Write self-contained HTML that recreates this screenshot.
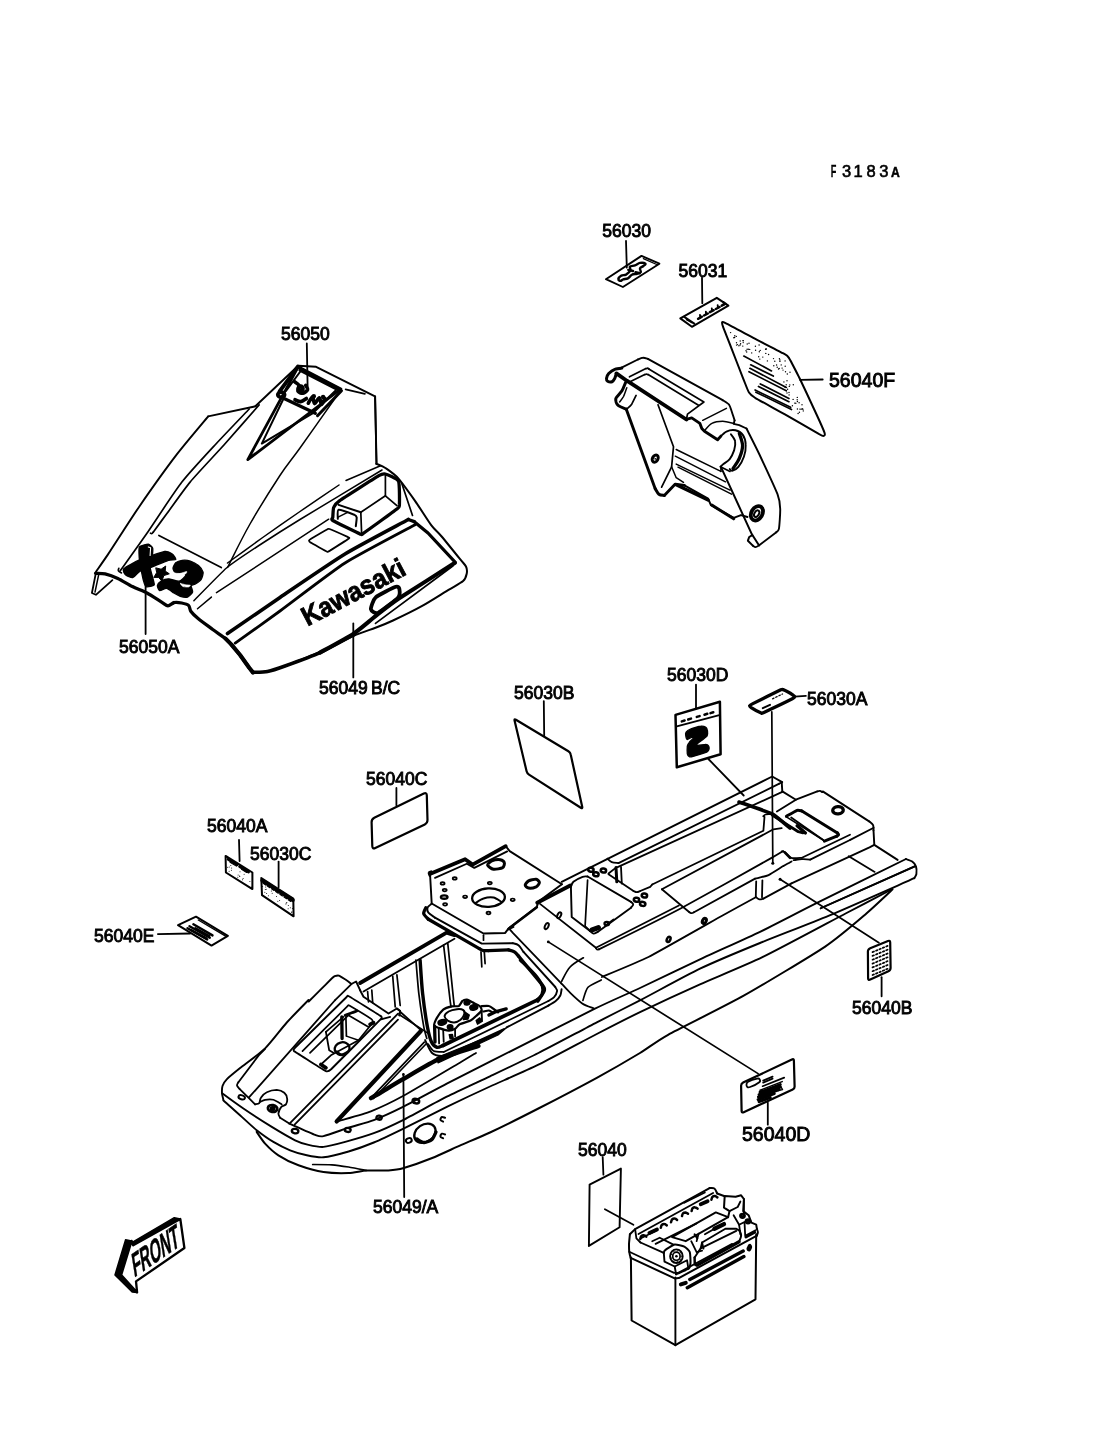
<!DOCTYPE html>
<html><head><meta charset="utf-8"><title>F3183A Labels</title>
<style>
html,body{margin:0;padding:0;background:#fff;}
body{width:1096px;height:1434px;overflow:hidden;font-family:"Liberation Sans",sans-serif;}
svg{display:block;opacity:0.999;will-change:transform;}
svg path, svg ellipse{stroke-linecap:round;stroke-linejoin:round;}
</style></head><body>
<svg width="1096" height="1434" viewBox="0 0 1096 1434">
<rect x="0" y="0" width="1096" height="1434" fill="#fff"/>
<text opacity="0.999" x="830.8" y="176.5" font-size="16.5" text-anchor="start" font-weight="bold" stroke-width="0.3" font-family="'Liberation Sans', sans-serif" fill="#000" stroke="#000" textLength="5.6" lengthAdjust="spacingAndGlyphs">F</text>
<text opacity="0.999" x="846.5" y="176.5" font-size="16.5" text-anchor="middle" font-weight="normal" stroke-width="0.6" font-family="'Liberation Sans', sans-serif" fill="#000" stroke="#000" >3</text>
<text opacity="0.999" x="858" y="176.5" font-size="16.5" text-anchor="middle" font-weight="normal" stroke-width="0.6" font-family="'Liberation Sans', sans-serif" fill="#000" stroke="#000" >1</text>
<text opacity="0.999" x="871.1" y="176.5" font-size="16.5" text-anchor="middle" font-weight="normal" stroke-width="0.6" font-family="'Liberation Sans', sans-serif" fill="#000" stroke="#000" >8</text>
<text opacity="0.999" x="883.8" y="176.5" font-size="16.5" text-anchor="middle" font-weight="normal" stroke-width="0.6" font-family="'Liberation Sans', sans-serif" fill="#000" stroke="#000" >3</text>
<text opacity="0.999" x="895.3" y="177.3" font-size="14.5" text-anchor="middle" font-weight="bold" stroke-width="0.5" font-family="'Liberation Sans', sans-serif" fill="#000" stroke="#000" textLength="8.8" lengthAdjust="spacingAndGlyphs">A</text>
<text opacity="0.999" x="602.3" y="237" font-size="17.5" text-anchor="start" font-weight="normal" stroke-width="0.9" font-family="'Liberation Sans', sans-serif" fill="#000" stroke="#000" >56030</text>
<text opacity="0.999" x="678.5" y="276.5" font-size="17.5" text-anchor="start" font-weight="normal" stroke-width="0.9" font-family="'Liberation Sans', sans-serif" fill="#000" stroke="#000" >56031</text>
<text opacity="0.999" x="281" y="340" font-size="17.5" text-anchor="start" font-weight="normal" stroke-width="0.9" font-family="'Liberation Sans', sans-serif" fill="#000" stroke="#000" >56050</text>
<text opacity="0.999" x="829" y="387" font-size="19.5" text-anchor="start" font-weight="normal" stroke-width="0.9" font-family="'Liberation Sans', sans-serif" fill="#000" stroke="#000" >56040F</text>
<text opacity="0.999" x="119" y="653" font-size="17.5" text-anchor="start" font-weight="normal" stroke-width="0.9" font-family="'Liberation Sans', sans-serif" fill="#000" stroke="#000" >56050A</text>
<text opacity="0.999" x="319" y="694" font-size="17.5" text-anchor="start" font-weight="normal" stroke-width="0.9" font-family="'Liberation Sans', sans-serif" fill="#000" stroke="#000" >56049</text>
<text opacity="0.999" x="371" y="694" font-size="17.5" text-anchor="start" font-weight="normal" stroke-width="0.9" font-family="'Liberation Sans', sans-serif" fill="#000" stroke="#000" >B/C</text>
<text opacity="0.999" x="514" y="699" font-size="17.5" text-anchor="start" font-weight="normal" stroke-width="0.9" font-family="'Liberation Sans', sans-serif" fill="#000" stroke="#000" >56030B</text>
<text opacity="0.999" x="667" y="681" font-size="17.5" text-anchor="start" font-weight="normal" stroke-width="0.9" font-family="'Liberation Sans', sans-serif" fill="#000" stroke="#000" >56030D</text>
<text opacity="0.999" x="807" y="705" font-size="17.5" text-anchor="start" font-weight="normal" stroke-width="0.9" font-family="'Liberation Sans', sans-serif" fill="#000" stroke="#000" >56030A</text>
<text opacity="0.999" x="366" y="785" font-size="17.5" text-anchor="start" font-weight="normal" stroke-width="0.9" font-family="'Liberation Sans', sans-serif" fill="#000" stroke="#000" >56040C</text>
<text opacity="0.999" x="207" y="832" font-size="17.5" text-anchor="start" font-weight="normal" stroke-width="0.9" font-family="'Liberation Sans', sans-serif" fill="#000" stroke="#000" >56040A</text>
<text opacity="0.999" x="250" y="860" font-size="17.5" text-anchor="start" font-weight="normal" stroke-width="0.9" font-family="'Liberation Sans', sans-serif" fill="#000" stroke="#000" >56030C</text>
<text opacity="0.999" x="94" y="942" font-size="17.5" text-anchor="start" font-weight="normal" stroke-width="0.9" font-family="'Liberation Sans', sans-serif" fill="#000" stroke="#000" >56040E</text>
<text opacity="0.999" x="852" y="1014" font-size="17.5" text-anchor="start" font-weight="normal" stroke-width="0.9" font-family="'Liberation Sans', sans-serif" fill="#000" stroke="#000" >56040B</text>
<text opacity="0.999" x="742" y="1141" font-size="19.5" text-anchor="start" font-weight="normal" stroke-width="0.9" font-family="'Liberation Sans', sans-serif" fill="#000" stroke="#000" >56040D</text>
<text opacity="0.999" x="373" y="1213" font-size="17.5" text-anchor="start" font-weight="normal" stroke-width="0.9" font-family="'Liberation Sans', sans-serif" fill="#000" stroke="#000" >56049/A</text>
<text opacity="0.999" x="578" y="1156" font-size="17.5" text-anchor="start" font-weight="normal" stroke-width="0.9" font-family="'Liberation Sans', sans-serif" fill="#000" stroke="#000" >56040</text>
<path d="M626 240.9 L626.8 267.6" stroke-width="1.8" fill="none" stroke="#000" />
<path d="M605.9 279.2 L641.5 255.9 L659.4 263.7 L622.9 287 Z" stroke-width="1.9" fill="none" stroke="#000" />
<path d="M618.3 279.2 C618.4 278.3 620.1 276.4 621.4 275.6 C622.7 274.9 624.5 275.4 626 274.6 C627.5 273.7 629.7 271.7 630.4 270.4 C631 269 629.1 267.3 629.9 266.5 C630.7 265.7 633.3 266 635 265.4 C636.7 264.8 638.3 263.2 640 262.9 C641.7 262.6 644.8 263.2 645.4 263.7 C646 264.2 644.3 265.2 643.4 266 C642.5 266.8 640.4 267.3 640 268.3 C639.5 269.4 641.3 271.3 640.8 272.2 C640.2 273.1 638.4 273.4 636.9 273.8 C635.4 274.2 633.4 273.9 631.9 274.7 C630.4 275.5 629.3 277.7 627.9 278.4 C626.4 279.2 624.4 278.9 623.2 279.4 C622 279.8 621.4 280.9 620.6 280.9 C619.8 280.9 618.1 280.1 618.3 279.2 Z" stroke-width="2.4" fill="none" stroke="#000" />
<path d="M643.4 258.6 L656.7 264.5" stroke-width="1.3" fill="none" stroke="#000" />
<path d="M628.3 269.9 L633 271" stroke-width="2.5" fill="none" stroke="#000" />
<path d="M635.6 272.2 L639.7 273.2" stroke-width="2.5" fill="none" stroke="#000" />
<path d="M702 277.7 L702.3 303.2" stroke-width="1.8" fill="none" stroke="#000" />
<path d="M680.3 318.4 L716.8 297.8 L728.4 305.6 L691.9 326.8 Z" stroke-width="2" fill="none" stroke="#000" />
<path d="M684.2 316.9 L694.3 323.7" stroke-width="2" fill="none" stroke="#000" />
<path d="M686.5 319.5 L691.9 322.6" stroke-width="1.5" fill="none" stroke="#000" />
<path d="M698.1 318.8 L701.9 316.7" stroke-width="2.5" fill="none" stroke="#000" />
<path d="M700.3 317.5 L700 315" stroke-width="1.9" fill="none" stroke="#000" />
<path d="M704 315.5 L707.8 313.5" stroke-width="2.5" fill="none" stroke="#000" />
<path d="M706.2 314.3 L705.9 311.8" stroke-width="1.9" fill="none" stroke="#000" />
<path d="M709.9 312.2 L713.7 310.2" stroke-width="2.5" fill="none" stroke="#000" />
<path d="M712.1 311 L711.8 308.5" stroke-width="1.9" fill="none" stroke="#000" />
<path d="M715.8 309 L719.6 307" stroke-width="2.5" fill="none" stroke="#000" />
<path d="M718 307.7 L717.7 305.3" stroke-width="1.9" fill="none" stroke="#000" />
<path d="M721.7 305.7 L725.4 303.7" stroke-width="2.5" fill="none" stroke="#000" />
<path d="M723.9 304.5 L723.6 302" stroke-width="1.9" fill="none" stroke="#000" />
<path d="M800.2 379.9 L822.7 379.5" stroke-width="1.8" fill="none" stroke="#000" />
<path d="M722.1 322.3 C722.4 321.9 722 321.4 725.6 323.2 C729.2 325 746.7 334.4 753.3 337.9 C760 341.4 778.7 350.9 782.8 353.2 C787 355.5 786.9 354.8 788.9 357.9 C790.9 361 797.2 373.6 800.2 379.5 C803.1 385.5 811.2 402.9 814 409 C816.9 415.2 823.3 429.3 824.4 432.4 C825.5 435.6 824.2 435.7 823.6 435.9 C823 436.1 823.8 436.7 819.2 434.2 C814.7 431.6 792 418.5 784.5 414.2 C777.1 410 759.2 400.3 755.1 397.8 C750.9 395.2 750.4 394.9 749 392.6 C747.6 390.2 745.1 383.2 742.9 377.8 C740.8 372.5 733.1 352.6 730.8 346.6 C728.5 340.6 724 329.5 723 326.7 C722 323.8 721.8 322.7 722.1 322.3 Z" stroke-width="2" fill="none" stroke="#000" />
<path d="M743.8 356.1 L771.5 370.9" stroke-width="1.7" fill="none" stroke="#000" />
<path d="M750.7 364.8 L773.3 376.1" stroke-width="1.7" fill="none" stroke="#000" />
<path d="M749.9 368.3 L786.3 387.4" stroke-width="1.7" fill="none" stroke="#000" />
<path d="M749 371.7 L786.3 390.8" stroke-width="1.7" fill="none" stroke="#000" />
<path d="M758.5 386.5 L788.9 401.7" stroke-width="1.7" fill="none" stroke="#000" />
<path d="M760.3 383.9 L788.9 398.6" stroke-width="1.7" fill="none" stroke="#000" />
<path d="M755.1 390 L790.6 407.3" stroke-width="1.7" fill="none" stroke="#000" />
<path d="M755.9 392.2 L791.5 409.5" stroke-width="1.7" fill="none" stroke="#000" />
<circle cx="747.2" cy="344" r="0.7" fill="#000" stroke="none"/>
<circle cx="766" cy="349.1" r="0.7" fill="#000" stroke="none"/>
<circle cx="736.5" cy="342.7" r="0.7" fill="#000" stroke="none"/>
<circle cx="785.5" cy="371.7" r="0.7" fill="#000" stroke="none"/>
<circle cx="734.8" cy="335.7" r="0.7" fill="#000" stroke="none"/>
<circle cx="759.1" cy="345" r="0.7" fill="#000" stroke="none"/>
<circle cx="759.8" cy="359.1" r="0.7" fill="#000" stroke="none"/>
<circle cx="793.1" cy="399.4" r="0.7" fill="#000" stroke="none"/>
<circle cx="777.2" cy="367.3" r="0.7" fill="#000" stroke="none"/>
<circle cx="787.6" cy="389.2" r="0.7" fill="#000" stroke="none"/>
<circle cx="787.3" cy="374" r="0.7" fill="#000" stroke="none"/>
<circle cx="783" cy="370.1" r="0.7" fill="#000" stroke="none"/>
<circle cx="736.3" cy="336.4" r="0.7" fill="#000" stroke="none"/>
<circle cx="737.5" cy="344.6" r="0.7" fill="#000" stroke="none"/>
<circle cx="799.4" cy="412.2" r="0.7" fill="#000" stroke="none"/>
<circle cx="740.1" cy="345" r="0.7" fill="#000" stroke="none"/>
<circle cx="767.4" cy="360.9" r="0.7" fill="#000" stroke="none"/>
<circle cx="802.2" cy="408.8" r="0.7" fill="#000" stroke="none"/>
<circle cx="801.1" cy="409.2" r="0.7" fill="#000" stroke="none"/>
<circle cx="740.2" cy="341" r="0.7" fill="#000" stroke="none"/>
<circle cx="765.8" cy="353.4" r="0.7" fill="#000" stroke="none"/>
<circle cx="749" cy="343.3" r="0.7" fill="#000" stroke="none"/>
<circle cx="730.6" cy="332.6" r="0.7" fill="#000" stroke="none"/>
<circle cx="751.7" cy="352.9" r="0.7" fill="#000" stroke="none"/>
<circle cx="779.9" cy="361.4" r="0.7" fill="#000" stroke="none"/>
<circle cx="760.2" cy="350.4" r="0.7" fill="#000" stroke="none"/>
<circle cx="797.4" cy="401.5" r="0.7" fill="#000" stroke="none"/>
<circle cx="749.7" cy="349.4" r="0.7" fill="#000" stroke="none"/>
<circle cx="799.9" cy="409.1" r="0.7" fill="#000" stroke="none"/>
<circle cx="795.8" cy="403.2" r="0.7" fill="#000" stroke="none"/>
<circle cx="742.8" cy="346.1" r="0.7" fill="#000" stroke="none"/>
<circle cx="740.6" cy="343.7" r="0.7" fill="#000" stroke="none"/>
<circle cx="789.8" cy="384.9" r="0.7" fill="#000" stroke="none"/>
<circle cx="802.9" cy="409.3" r="0.7" fill="#000" stroke="none"/>
<circle cx="783.9" cy="381.9" r="0.7" fill="#000" stroke="none"/>
<circle cx="773.5" cy="358.6" r="0.7" fill="#000" stroke="none"/>
<circle cx="734.6" cy="337.5" r="0.7" fill="#000" stroke="none"/>
<circle cx="803.3" cy="410.9" r="0.7" fill="#000" stroke="none"/>
<circle cx="781.2" cy="364.9" r="0.7" fill="#000" stroke="none"/>
<circle cx="746.7" cy="352" r="0.7" fill="#000" stroke="none"/>
<circle cx="755.6" cy="350.2" r="0.7" fill="#000" stroke="none"/>
<circle cx="784.6" cy="386.7" r="0.7" fill="#000" stroke="none"/>
<circle cx="746" cy="350.7" r="0.7" fill="#000" stroke="none"/>
<circle cx="786.2" cy="384.7" r="0.7" fill="#000" stroke="none"/>
<circle cx="793.3" cy="384.7" r="0.7" fill="#000" stroke="none"/>
<circle cx="790" cy="372.3" r="0.7" fill="#000" stroke="none"/>
<circle cx="779.9" cy="360" r="0.7" fill="#000" stroke="none"/>
<circle cx="798.1" cy="413.5" r="0.7" fill="#000" stroke="none"/>
<circle cx="768.6" cy="354.5" r="0.7" fill="#000" stroke="none"/>
<circle cx="736.5" cy="345.1" r="0.7" fill="#000" stroke="none"/>
<circle cx="743.2" cy="340.7" r="0.7" fill="#000" stroke="none"/>
<circle cx="782.1" cy="368.1" r="0.7" fill="#000" stroke="none"/>
<circle cx="743" cy="340.6" r="0.7" fill="#000" stroke="none"/>
<circle cx="762.8" cy="357.1" r="0.7" fill="#000" stroke="none"/>
<circle cx="733.8" cy="337.7" r="0.7" fill="#000" stroke="none"/>
<circle cx="779.2" cy="368.5" r="0.7" fill="#000" stroke="none"/>
<circle cx="759.3" cy="351.8" r="0.7" fill="#000" stroke="none"/>
<circle cx="784.9" cy="386.6" r="0.7" fill="#000" stroke="none"/>
<circle cx="785.1" cy="360.9" r="0.7" fill="#000" stroke="none"/>
<circle cx="787" cy="380.8" r="0.7" fill="#000" stroke="none"/>
<circle cx="743.2" cy="342.6" r="0.7" fill="#000" stroke="none"/>
<circle cx="797.2" cy="399.8" r="0.7" fill="#000" stroke="none"/>
<circle cx="747.1" cy="349.3" r="0.7" fill="#000" stroke="none"/>
<circle cx="748.3" cy="349.3" r="0.7" fill="#000" stroke="none"/>
<circle cx="789.1" cy="394.9" r="0.7" fill="#000" stroke="none"/>
<circle cx="787" cy="393" r="0.7" fill="#000" stroke="none"/>
<circle cx="797.3" cy="397.4" r="0.7" fill="#000" stroke="none"/>
<circle cx="792.4" cy="405.7" r="0.7" fill="#000" stroke="none"/>
<circle cx="797.4" cy="409" r="0.7" fill="#000" stroke="none"/>
<circle cx="794.7" cy="403.1" r="0.7" fill="#000" stroke="none"/>
<circle cx="766.3" cy="348.9" r="0.7" fill="#000" stroke="none"/>
<circle cx="776.6" cy="365" r="0.7" fill="#000" stroke="none"/>
<circle cx="774.8" cy="361.3" r="0.7" fill="#000" stroke="none"/>
<circle cx="789" cy="392.5" r="0.7" fill="#000" stroke="none"/>
<circle cx="765.6" cy="349.2" r="0.7" fill="#000" stroke="none"/>
<circle cx="738.9" cy="345.7" r="0.7" fill="#000" stroke="none"/>
<circle cx="778.5" cy="369" r="0.7" fill="#000" stroke="none"/>
<circle cx="773.8" cy="365.8" r="0.7" fill="#000" stroke="none"/>
<circle cx="755.4" cy="346.3" r="0.7" fill="#000" stroke="none"/>
<circle cx="785.2" cy="366.3" r="0.7" fill="#000" stroke="none"/>
<circle cx="758.7" cy="356.7" r="0.7" fill="#000" stroke="none"/>
<circle cx="789.3" cy="386.4" r="0.7" fill="#000" stroke="none"/>
<circle cx="799.1" cy="402.8" r="0.7" fill="#000" stroke="none"/>
<circle cx="779.4" cy="358.7" r="0.7" fill="#000" stroke="none"/>
<circle cx="802" cy="404.8" r="0.7" fill="#000" stroke="none"/>
<path d="M543.8 701.1 L544.2 735.9" stroke-width="1.8" fill="none" stroke="#000" />
<path d="M514.6 720.8 Q514.1 718.6 515.9 719.7 L568.4 751.2 Q570.3 752.3 570.7 754.5 L582.2 806.8 Q582.7 808.9 580.8 807.8 L529 774.6 Q527.1 773.4 526.6 771.3 Z" stroke-width="2.2" fill="none" stroke="#000"/>
<path d="M696 684.6 L696 708.5" stroke-width="1.8" fill="none" stroke="#000" />
<path d="M675.5 714.9 L719.9 701.8 L720.6 754.2 L676.8 767.3 Z" stroke-width="2.5" fill="none" stroke="#000" />
<path d="M676.8 726.4 L719.3 715.2" stroke-width="1.9" fill="none" stroke="#000" />
<path d="M681.8 721.4 L684.6 720.5" stroke-width="2.5" fill="none" stroke="#000" />
<path d="M688.2 719.5 L691 718.6" stroke-width="2.5" fill="none" stroke="#000" />
<path d="M696.8 716.9 L699.6 716.1" stroke-width="2.5" fill="none" stroke="#000" />
<path d="M704.5 714.7 L707.3 713.8" stroke-width="2.5" fill="none" stroke="#000" />
<path d="M710.5 713.1 L713.3 712.2" stroke-width="2.5" fill="none" stroke="#000" />
<path d="M686.1 732.1 C686.6 731.4 689.1 729.6 690.5 729 C692 728.3 699.2 726.2 700.8 726.1 C702.3 725.9 705.2 726.9 705.9 727.4 C706.5 727.8 707.3 730 707.5 730.9 C707.6 731.7 707.8 735 707.1 736 C706.5 737 701.9 740.1 700.8 741.1 C699.6 742 695.1 745.2 695.7 745.6 C696.2 745.9 704.6 744.3 705.9 744.3 C707.1 744.3 708.1 745.1 708.4 745.6 C708.7 746 709.2 748.1 709.1 748.7 C708.9 749.4 708.7 751.2 707.1 751.9 C705.5 752.7 694.9 755.9 693.1 756.4 C691.3 756.9 689.8 757 689.3 756.7 C688.7 756.5 687.5 754.9 687.3 753.9 C687.2 752.8 687.2 747.3 687.3 746.2 C687.5 745 688.7 743.1 689.3 742.4 C689.8 741.6 692.8 739 693.1 738.5 C693.4 738 692.4 737.2 691.8 737.3 C691.2 737.3 688 739.6 687.3 739.5 C686.7 739.4 685.9 736.7 685.8 736 C685.6 735.2 685.6 732.8 686.1 732.1 Z" stroke-width="1.3" fill="#000" stroke="#000" />
<path d="M708.4 759 L743.7 795.5" stroke-width="1.8" fill="none" stroke="#000" />
<path d="M749.6 705.8 C749.8 705.5 750.4 704.9 752.9 703.6 C755.5 702.3 777.8 691.2 780.3 690 C782.8 688.9 782 689.2 783.1 689.6 C784.2 690 792.5 694.7 793.4 695.3 C794.4 695.9 794.6 696.7 794.5 697 C794.4 697.3 794.9 697.5 792.3 698.8 C789.8 700.1 766.5 711.2 763.9 712.4 C761.3 713.6 762.3 713.4 761.2 713 C760.2 712.6 752.1 708.2 751.2 707.6 C750.2 706.9 749.5 706.1 749.6 705.8 Z" stroke-width="3.3" fill="none" stroke="#000" />
<path d="M794.5 696.6 L805.9 695.9" stroke-width="1.8" fill="none" stroke="#000" />
<path d="M772.6 698.8 L782.5 694" stroke-width="1.3" fill="none" stroke="#000" stroke-dasharray="1.5 2"/>
<path d="M762.8 708.2 L770 704.9" stroke-width="2" fill="none" stroke="#000" />
<path d="M396.4 787.9 L396.4 805.3" stroke-width="1.8" fill="none" stroke="#000" />
<path d="M371.6 822.3 Q371.5 819.1 374.3 817.7 L423.8 793.6 Q426.7 792.2 426.8 795.4 L427.5 819.9 Q427.6 823.1 424.8 824.5 L375.3 848 Q372.5 849.4 372.3 846.2 Z" stroke-width="2.2" fill="none" stroke="#000"/>
<path d="M239 839.9 L239.6 861" stroke-width="1.8" fill="none" stroke="#000" />
<path d="M225.6 855.9 L252.4 872.5 L252.4 889.1 L225.9 872.5 Z" stroke-width="2" fill="none" stroke="#000" />
<path d="M228.1 859.3 L237.1 864.8" stroke-width="2.8" fill="none" stroke="#000" />
<path d="M239.6 866.5 L248.6 872.1" stroke-width="2.8" fill="none" stroke="#000" />
<path d="M230 862.2 L236.4 866.1" stroke-width="1.1" fill="none" stroke="#000" />
<path d="M241.5 869.3 L246.6 872.5" stroke-width="1.1" fill="none" stroke="#000" />
<circle cx="238.1" cy="874.9" r="0.5" fill="#000" stroke="none"/>
<circle cx="249.9" cy="881.6" r="0.5" fill="#000" stroke="none"/>
<circle cx="239.5" cy="876" r="0.5" fill="#000" stroke="none"/>
<circle cx="231.4" cy="870.2" r="0.5" fill="#000" stroke="none"/>
<circle cx="242.5" cy="879.7" r="0.5" fill="#000" stroke="none"/>
<circle cx="229.2" cy="866.9" r="0.5" fill="#000" stroke="none"/>
<circle cx="229.1" cy="871.3" r="0.5" fill="#000" stroke="none"/>
<circle cx="244.1" cy="874.2" r="0.5" fill="#000" stroke="none"/>
<circle cx="251.3" cy="886.9" r="0.5" fill="#000" stroke="none"/>
<circle cx="243.1" cy="878.6" r="0.5" fill="#000" stroke="none"/>
<circle cx="230.8" cy="865.4" r="0.5" fill="#000" stroke="none"/>
<circle cx="240" cy="871.7" r="0.5" fill="#000" stroke="none"/>
<circle cx="231.6" cy="867.9" r="0.5" fill="#000" stroke="none"/>
<circle cx="227.6" cy="867.3" r="0.5" fill="#000" stroke="none"/>
<circle cx="237.8" cy="877.2" r="0.5" fill="#000" stroke="none"/>
<circle cx="239.8" cy="876.6" r="0.5" fill="#000" stroke="none"/>
<path d="M278.6 861.6 L278.6 887.2" stroke-width="1.8" fill="none" stroke="#000" />
<path d="M261.3 878 L293.3 898.6 L293.6 916.3 L262 895.1 Z" stroke-width="2" fill="none" stroke="#000" />
<path d="M262.2 880.5 L292.9 900.2" stroke-width="3.8" fill="none" stroke="#000" stroke-dasharray="9 1.2"/>
<path d="M263.2 883.3 L292 902.2" stroke-width="1.3" fill="none" stroke="#000" stroke-dasharray="3 2"/>
<circle cx="277.8" cy="901.3" r="0.5" fill="#000" stroke="none"/>
<circle cx="276.5" cy="896.6" r="0.5" fill="#000" stroke="none"/>
<circle cx="292.9" cy="914.8" r="0.5" fill="#000" stroke="none"/>
<circle cx="288.1" cy="908.7" r="0.5" fill="#000" stroke="none"/>
<circle cx="272.2" cy="893.2" r="0.5" fill="#000" stroke="none"/>
<circle cx="271.4" cy="891.1" r="0.5" fill="#000" stroke="none"/>
<circle cx="285.9" cy="904.1" r="0.5" fill="#000" stroke="none"/>
<circle cx="288.3" cy="905.6" r="0.5" fill="#000" stroke="none"/>
<circle cx="291.7" cy="912.5" r="0.5" fill="#000" stroke="none"/>
<circle cx="262.6" cy="886.6" r="0.5" fill="#000" stroke="none"/>
<circle cx="290.3" cy="907.8" r="0.5" fill="#000" stroke="none"/>
<circle cx="292.4" cy="908.5" r="0.5" fill="#000" stroke="none"/>
<circle cx="264.8" cy="892.2" r="0.5" fill="#000" stroke="none"/>
<circle cx="286.3" cy="903.1" r="0.5" fill="#000" stroke="none"/>
<circle cx="265.3" cy="889.6" r="0.5" fill="#000" stroke="none"/>
<circle cx="291.9" cy="911.7" r="0.5" fill="#000" stroke="none"/>
<circle cx="266.2" cy="889.3" r="0.5" fill="#000" stroke="none"/>
<circle cx="265.7" cy="887.1" r="0.5" fill="#000" stroke="none"/>
<circle cx="286.8" cy="902.5" r="0.5" fill="#000" stroke="none"/>
<circle cx="279.6" cy="900.4" r="0.5" fill="#000" stroke="none"/>
<circle cx="268.4" cy="895.7" r="0.5" fill="#000" stroke="none"/>
<circle cx="266.6" cy="893.6" r="0.5" fill="#000" stroke="none"/>
<path d="M157.9 934.1 L190.1 933.5" stroke-width="1.8" fill="none" stroke="#000" />
<path d="M178 925.2 L196 916.7 L227.9 935.8 L211.5 945.6 Z" stroke-width="2" fill="none" stroke="#000" />
<path d="M198.3 920 L225.6 936.1" stroke-width="1.4" fill="none" stroke="#000" />
<path d="M187.5 928.2 L207.2 939.4" stroke-width="2.4" fill="none" stroke="#000" />
<path d="M189.5 926.2 L209.8 937.7" stroke-width="2.4" fill="none" stroke="#000" />
<path d="M191.4 930.2 L205.9 938.1" stroke-width="2.4" fill="none" stroke="#000" />
<path d="M193.4 924.3 L212.5 935.4" stroke-width="2.4" fill="none" stroke="#000" />
<path d="M195.4 928.2 L209.2 936.1" stroke-width="2.4" fill="none" stroke="#000" />
<path d="M881.6 977.2 L881.6 996.3" stroke-width="1.8" fill="none" stroke="#000" />
<path d="M867.9 951.5 Q867.9 949.1 870.2 948.2 L888 941 Q890.2 940.1 890.2 942.5 L890.6 967.8 Q890.6 970.2 888.4 971.2 L870.3 979.6 Q868.1 980.6 868.1 978.2 Z" stroke-width="2.2" fill="none" stroke="#000"/>
<path d="M872.5 952.1 L874 951.5" stroke-width="1.7" fill="none" stroke="#000" />
<path d="M876 950.7 L877.4 950.1" stroke-width="1.7" fill="none" stroke="#000" />
<path d="M879.4 949.3 L880.8 948.7" stroke-width="1.7" fill="none" stroke="#000" />
<path d="M882.8 947.9 L884.2 947.3" stroke-width="1.7" fill="none" stroke="#000" />
<path d="M886.2 946.5 L887.6 945.9" stroke-width="1.7" fill="none" stroke="#000" />
<path d="M872.5 955.9 L874 955.3" stroke-width="1.7" fill="none" stroke="#000" />
<path d="M876 954.5 L877.4 953.9" stroke-width="1.7" fill="none" stroke="#000" />
<path d="M879.4 953.1 L880.8 952.5" stroke-width="1.7" fill="none" stroke="#000" />
<path d="M882.8 951.7 L884.2 951.1" stroke-width="1.7" fill="none" stroke="#000" />
<path d="M886.2 950.3 L887.6 949.7" stroke-width="1.7" fill="none" stroke="#000" />
<path d="M872.5 959.7 L874 959.1" stroke-width="1.7" fill="none" stroke="#000" />
<path d="M876 958.3 L877.4 957.7" stroke-width="1.7" fill="none" stroke="#000" />
<path d="M879.4 956.9 L880.8 956.3" stroke-width="1.7" fill="none" stroke="#000" />
<path d="M882.8 955.5 L884.2 954.9" stroke-width="1.7" fill="none" stroke="#000" />
<path d="M886.2 954.1 L887.6 953.5" stroke-width="1.7" fill="none" stroke="#000" />
<path d="M872.5 963.6 L874 963" stroke-width="1.7" fill="none" stroke="#000" />
<path d="M876 962.2 L877.4 961.5" stroke-width="1.7" fill="none" stroke="#000" />
<path d="M879.4 960.7 L880.8 960.1" stroke-width="1.7" fill="none" stroke="#000" />
<path d="M882.8 959.3 L884.2 958.7" stroke-width="1.7" fill="none" stroke="#000" />
<path d="M886.2 957.9 L887.6 957.3" stroke-width="1.7" fill="none" stroke="#000" />
<path d="M872.5 967.4 L874 966.8" stroke-width="1.7" fill="none" stroke="#000" />
<path d="M876 966 L877.4 965.4" stroke-width="1.7" fill="none" stroke="#000" />
<path d="M879.4 964.6 L880.8 964" stroke-width="1.7" fill="none" stroke="#000" />
<path d="M882.8 963.2 L884.2 962.6" stroke-width="1.7" fill="none" stroke="#000" />
<path d="M886.2 961.8 L887.6 961.1" stroke-width="1.7" fill="none" stroke="#000" />
<path d="M872.5 971.2 L874 970.6" stroke-width="1.7" fill="none" stroke="#000" />
<path d="M876 969.8 L877.4 969.2" stroke-width="1.7" fill="none" stroke="#000" />
<path d="M879.4 968.4 L880.8 967.8" stroke-width="1.7" fill="none" stroke="#000" />
<path d="M882.8 967 L884.2 966.4" stroke-width="1.7" fill="none" stroke="#000" />
<path d="M886.2 965.6 L887.6 965" stroke-width="1.7" fill="none" stroke="#000" />
<path d="M872.5 975 L874 974.4" stroke-width="1.7" fill="none" stroke="#000" />
<path d="M876 973.6 L877.4 973" stroke-width="1.7" fill="none" stroke="#000" />
<path d="M879.4 972.2 L880.8 971.6" stroke-width="1.7" fill="none" stroke="#000" />
<path d="M882.8 970.8 L884.2 970.2" stroke-width="1.7" fill="none" stroke="#000" />
<path d="M886.2 969.4 L887.6 968.8" stroke-width="1.7" fill="none" stroke="#000" />
<path d="M767.8 1102.7 L767.8 1124.7" stroke-width="1.8" fill="none" stroke="#000" />
<path d="M741.1 1085.8 Q741.1 1083.6 743.1 1082.6 L791.9 1059.4 Q793.9 1058.5 793.9 1060.7 L794.6 1086.4 Q794.7 1088.6 792.7 1089.5 L743.7 1112.2 Q741.7 1113.1 741.6 1110.9 Z" stroke-width="2.2" fill="none" stroke="#000"/>
<path d="M746.5 1084.2 C746.6 1083.5 746.7 1082.5 748.1 1081.8 C749.5 1081 755.6 1078.9 757.1 1078.6 C758.7 1078.2 759.4 1078.9 759.7 1079.4 C760 1079.9 760.6 1081.2 759.3 1082.2 C758.1 1083.2 751.7 1086.4 750.1 1087 C748.5 1087.6 747.8 1087.4 747.3 1087 C746.8 1086.6 746.4 1084.9 746.5 1084.2 Z" stroke-width="1.8" fill="none" stroke="#000" />
<path d="M763.2 1080.6 L772.6 1076.6" stroke-width="1.8" fill="none" stroke="#000" />
<path d="M763.2 1082.6 L772.6 1078.6" stroke-width="1.8" fill="none" stroke="#000" />
<path d="M762.6 1086.2 L784.2 1077.6" stroke-width="1.7" fill="none" stroke="#000" />
<path d="M760.1 1092.2 L780.2 1084.6" stroke-width="3" fill="none" stroke="#000" />
<path d="M759.1 1094.6 L780.2 1087" stroke-width="3" fill="none" stroke="#000" />
<path d="M758.5 1097 L779.2 1089.6" stroke-width="3" fill="none" stroke="#000" />
<path d="M758.1 1099.6 L774.2 1093.6" stroke-width="3" fill="none" stroke="#000" />
<path d="M759.1 1101.7 L770.2 1097.6" stroke-width="3" fill="none" stroke="#000" />
<path d="M760.1 1090.2 L782.2 1081.6" stroke-width="1.5" fill="none" stroke="#000" />
<path d="M780.2 1085.6 L782.6 1089.6 L778.2 1090.6" stroke-width="1.3" fill="none" stroke="#000" />
<path d="M602.7 1157.2 L603.4 1174.7" stroke-width="1.8" fill="none" stroke="#000" />
<path d="M589.6 1184.6 L620.9 1168.6 L619.6 1227.3 L588.9 1245.9 Z" stroke-width="1.9" fill="none" stroke="#000" />
<path d="M604.9 1209.3 L633.4 1224.7" stroke-width="1.8" fill="none" stroke="#000" />
<path d="M208.2 416.4 C204.8 420.6 184.6 444.3 177 454.2 C169.4 464.1 146.8 495.7 139.2 506.7 C131.6 517.7 112.9 547.1 108 554.4 C103.1 561.7 96.3 571.2 94.9 573.3" stroke-width="1.9" fill="none" stroke="#000" />
<path d="M208.2 416.4 L255.8 406.2" stroke-width="1.9" fill="none" stroke="#000" />
<path d="M249.2 409 C245.6 412.8 223.8 435.5 216.4 443.5 C209 451.5 189.6 472.2 181.9 482.1 C174.2 492 153.4 524 146.6 533.8 C139.8 543.6 123.2 566.7 120.3 570.8" stroke-width="1.7" fill="none" stroke="#000" />
<path d="M259.1 404.9 C255.3 409.2 232.2 435.8 224.6 444.3 C217 452.8 196.4 474.5 190.1 482.1 C183.8 489.7 171.2 507.8 167.1 513.3 C163 518.8 154.7 530.1 153.2 532.2" stroke-width="1.7" fill="none" stroke="#000" />
<path d="M153.2 532.2 C153 532.4 152.2 533.4 151.8 533.6 C151.4 533.8 150.7 533.3 150.5 533.2" stroke-width="1.7" fill="none" stroke="#000" />
<path d="M158.9 535.5 L221.3 567.5" stroke-width="1.7" fill="none" stroke="#000" />
<path d="M306.8 343.5 L307.6 386.2" stroke-width="1.8" fill="none" stroke="#000" />
<path d="M255.6 406 L298.2 365.7 L316.1 366.8 L375 396.3 L376.6 463.7" stroke-width="1.9" fill="none" stroke="#000" />
<path d="M345.6 389.3 L364.9 393.9" stroke-width="1.7" fill="none" stroke="#000" />
<path d="M337 395.5 C330.8 404.2 309.6 434.6 300 448 C290.4 461.4 287.9 463.3 279.6 476 C271.3 488.7 258.7 508.8 250 524 C241.3 539.2 231.3 560.2 227.6 567.4" stroke-width="1.5" fill="none" stroke="#000" />
<path d="M298.2 366.8 L340.9 389 L247.8 459.6 Z" stroke-width="2.8" fill="none" stroke="#000" />
<path d="M284.3 397 L261.8 443.6 L313.8 412.6" stroke-width="2" fill="none" stroke="#000" />
<path d="M297.8 366.6 L279.5 391.5" stroke-width="3.8" fill="none" stroke="#000" />
<path d="M300.7 371 L286 390.8" stroke-width="2" fill="none" stroke="#000" />
<path d="M284.6 398.8 L315.3 413.3" stroke-width="3.3" fill="none" stroke="#000" />
<path d="M341.5 390.8 L317.5 415.7" stroke-width="3" fill="none" stroke="#000" />
<path d="M335.6 390.8 L313.8 411.9" stroke-width="2.5" fill="none" stroke="#000" />
<path d="M300.6 369.9 L338.6 389.3" stroke-width="4.3" fill="none" stroke="#000" />
<ellipse cx="281.2" cy="394.7" rx="3.4" ry="2.5" transform="rotate(0 281.2 394.7)" stroke-width="3.8" fill="none" stroke="#000"/>
<path d="M294.4 381.5 C295.1 382.2 298.4 383.8 299 385.4 C299.6 387 297.3 389.9 297.9 391.2 C298.6 392.4 301.3 393.4 302.9 393.2 C304.5 392.9 307.1 390.9 307.6 389.6 C308 388.3 306 386.1 305.7 385.4" stroke-width="3.6" fill="none" stroke="#000" />
<ellipse cx="300.6" cy="388.5" rx="2.2" ry="2.2" transform="rotate(0 300.6 388.5)" stroke-width="4.1" fill="none" stroke="#000"/>
<path d="M295.1 399.8 C296.1 400.1 298.7 401.9 300.6 401.7 C302.4 401.5 305.4 399.1 306.3 398.6" stroke-width="3.8" fill="none" stroke="#000" />
<path d="M308.3 403.2 C309 402.2 311.5 396.7 312.5 396.7 C313.6 396.8 313.4 403.4 314.5 403.6 C315.7 403.7 318.2 397.7 319.3 397.8 C320.5 398 320.6 404.4 321.5 404.5 C322.4 404.6 324.4 399.3 324.9 398.3" stroke-width="3.6" fill="none" stroke="#000" />
<circle cx="313.8" cy="396.3" r="2.2" fill="#000" stroke="none"/>
<circle cx="323.1" cy="397" r="2.2" fill="#000" stroke="none"/>
<path d="M95.9 572.9 L91.9 593 L95.9 594.8 L112.4 580.2" stroke-width="1.8" fill="none" stroke="#000" />
<path d="M98.7 574.7 L95 592.1" stroke-width="1.5" fill="none" stroke="#000" />
<path d="M95.9 573.3 C97.2 573.4 102.2 573.2 105.1 573.8 C108 574.5 114.2 576.7 117.8 578.4 C121.5 580.1 128.6 584.7 132.4 586.6 C136.3 588.6 143.2 590.9 147 593 C150.9 595.1 158.8 600.4 161.6 602.1 C164.4 603.8 166.3 605.7 168 605.8 C169.7 605.8 172.6 602.8 174.4 602.5 C176.2 602.1 179.8 602.6 181.7 603 C183.6 603.4 187.4 604.3 188.6 605.4 C189.9 606.5 189.6 609.5 190.8 611.2 C192.1 613 195.2 616.1 198.1 618.5 C201.1 621 209.1 626.8 212.7 629.5 C216.4 632.2 223.1 636.7 225.5 638.6 C227.9 640.6 229 641.9 231 644.1 C232.9 646.3 237.7 651.9 240.1 655 C242.5 658.2 247.5 665.5 249.2 667.8 C250.9 670.1 252.4 671.8 252.9 672.4" stroke-width="3.3" fill="none" stroke="#000" />
<path d="M225.5 638.6 L231 644.1 L240.1 655 L249.2 667.8 L252.9 672.4" stroke-width="4.1" fill="none" stroke="#000" />
<path d="M118.8 568.4 C118.7 568.8 117.9 570 118.4 570.7 C118.9 571.5 121 572.6 121.5 572.9" stroke-width="1.7" fill="none" stroke="#000" />
<path d="M139.4 546.9 C140.1 545.8 147.2 544 148.3 544.1 C149.4 544.3 152.4 547.1 152.7 548.2 C153 549.4 152.4 555.7 152.2 557.4 C152 559 150.2 566 150.3 568.3 C150.5 570.6 154.6 583.2 154.3 584.7 C153.9 586.3 147.4 587.1 146.5 586.8 C145.6 586.4 144 582.6 143.6 581.1 C143.1 579.6 141.2 570.3 140.8 568.3 C140.5 566.3 139.3 559.2 139.2 557.4 C139.1 555.6 138.6 548 139.4 546.9 Z" stroke-width="1.3" fill="#000" stroke="#000" />
<path d="M123.7 568.8 C125.1 567.3 136 561.4 140.1 559.7 C144.2 557.9 161.6 552 164.7 551.4 C167.9 550.8 170.9 552.9 172 553.7 C173.2 554.5 176.2 558.7 175.9 559.4 C175.5 560 170.7 559.6 168.4 560.3 C166.1 561 155.7 565.6 152.9 566.7 C150.1 567.8 142.1 570.1 140.1 571.2 C138.1 572.3 134.3 577.3 132.8 577.6 C131.4 578 126.4 575.8 125.5 574.9 C124.6 574 122.2 570.3 123.7 568.8 Z" stroke-width="1.3" fill="#000" stroke="#000" />
<path d="M173 568.3 C173 567.2 174.6 563.8 175.7 562.8 C176.8 561.9 180.4 560.5 182.1 560.3 C183.8 560.1 188.4 560.4 190.3 561 C192.2 561.6 197 564.3 198.5 565.6 C200 566.9 202.7 570.6 203.1 572.2 C203.4 573.8 202.1 577.9 201.2 579.3 C200.4 580.6 196.9 583.1 195.8 583.8 C194.6 584.6 191.6 584.7 191.2 585.7 C190.8 586.6 193 590.7 192.6 592 C192.1 593.4 189 596.6 187.6 597.1 C186.1 597.6 181.9 596.9 180.3 596.4 C178.7 595.9 175.5 593.9 173.9 593 C172.3 592 168.2 588.7 166.6 588.4 C164.9 588.1 160.8 591 159.7 590.7 C158.7 590.4 157.3 586.8 157.4 585.7 C157.6 584.5 159.8 581.9 161.1 581.1 C162.4 580.3 166.3 578.8 168.4 578.8 C170.5 578.8 177.3 581.5 179.3 581.1 C181.4 580.7 185.3 576.6 185.7 575.6 C186.2 574.6 184.2 572.7 183 572.4 C181.8 572.1 176.9 573.4 175.7 572.9 C174.5 572.4 173 569.5 173 568.3 Z" stroke-width="1.3" fill="#000" stroke="#000" />
<path d="M173.9 572.9 C174.4 572.7 178.1 573.8 179.3 573.6 C180.6 573.5 186 571.5 186.6 571.5 C187.3 571.5 186.4 573.3 185.7 573.8 C185.1 574.3 181.4 575.9 180.3 576.1 C179.1 576.3 174.5 575.9 173.9 575.6 C173.2 575.3 173.3 573.1 173.9 572.9 Z" stroke-width="0.6" fill="#fff" stroke="#fff" />
<path d="M180.3 583.4 C180.5 583.2 184.7 584.6 185.7 584.7 C186.7 584.9 190 585 190.3 585.2 C190.6 585.4 189.2 586.9 188.5 587 C187.7 587.2 183.8 586.9 183 586.6 C182.2 586.2 180 583.6 180.3 583.4 Z" stroke-width="0.6" fill="#fff" stroke="#fff" />
<path d="M156.1 567.9 L161.1 569.2 L165.7 566 L165.2 571.1 L169.3 573.8 L163.8 575.6 L162 581.1 L158.4 577.4 L153.8 577.4 L156.5 572.9 Z" stroke-width="1" fill="#000" stroke="#000" />
<path d="M148.3 546.9 L150.6 547.8 L150.1 555.5" stroke-width="1.1" fill="none" stroke="#fff" />
<path d="M145.6 584.7 L145.6 634" stroke-width="1.8" fill="none" stroke="#000" />
<path d="M227.5 563 C229.8 561.3 257.2 541.4 262 538 C266.8 534.6 294.9 515 300 511.5 C305.1 508 336.4 486.8 339 485" stroke-width="1.5" fill="none" stroke="#000" />
<path d="M346 480.5 L380.5 465.8" stroke-width="1.5" fill="none" stroke="#000" />
<path d="M193.9 600.7 C196.1 598.5 222 571.8 226.5 568 C231 564.2 257.1 546.7 262 543.5 C266.9 540.3 292 524.4 300 519.5 C308 514.6 376.5 473.3 382 470" stroke-width="1.5" fill="none" stroke="#000" />
<path d="M197.5 608.8 L211.4 597.1" stroke-width="1.5" fill="none" stroke="#000" />
<path d="M216.5 592.7 L328.7 519.2" stroke-width="1.5" fill="none" stroke="#000" />
<path d="M227.5 633.6 C232.8 630 268.2 605.4 280 597.4 C291.8 589.4 332.2 561.8 345 554 C357.8 546.2 402 523 408.3 519.5" stroke-width="3.6" fill="none" stroke="#000" />
<path d="M408.3 519.5 L414.3 521.6" stroke-width="3.3" fill="none" stroke="#000" />
<path d="M235.2 643.1 C239.7 639.9 269 619 280 611 C291 603 331.5 571.6 345 563 C358.5 554.4 408.2 528.5 415.2 524.7" stroke-width="2.8" fill="none" stroke="#000" />
<path d="M414.3 521.8 L428 533 L455 562" stroke-width="3.3" fill="none" stroke="#000" />
<path d="M455 562.8 C449.4 566.4 406.8 593.3 398.8 598.6 C390.9 603.9 380 612.6 375.5 616.1 C371 619.6 359.2 630 353.6 633.6 C348.1 637.2 323.4 650.7 320 652.6" stroke-width="4.1" fill="none" stroke="#000" />
<path d="M452.8 566 L375.5 623.4" stroke-width="1.7" fill="none" stroke="#000" />
<path d="M376.4 463.8 C377.6 464.4 382.5 466 385.4 468 C388.3 470 394.6 474.2 398.5 478.6 C402.4 483 410.6 494.6 415 500.8 C419.4 507 427.9 520.7 431.4 525.4 C434.9 530.1 437.4 531.5 441.2 536 C445 540.5 456.8 555.1 460.1 559.2 C463.4 563.3 465.1 564.6 466 566.5 C466.9 568.4 467.1 571.9 466.7 573.8 C466.3 575.7 465.5 579 463.1 581.1 C460.7 583.2 454 586.6 448.5 589.9 C443 593.2 429.6 601.8 422.2 605.9 C414.8 610 399.2 617.6 393 620.5 C386.8 623.4 380.8 625.8 375.5 627.8 C370.2 629.8 361 632.6 353.6 635.8 C346.2 639 329.1 648 320 652 C310.9 656 292 663.4 285 666 C278 668.6 271.8 670.6 267.5 671.5 C263.2 672.4 254.8 672.3 252.9 672.4" stroke-width="2" fill="none" stroke="#000" />
<path d="M252.9 672.4 C254.5 672.3 264 672.2 267.5 671.5 C271 670.8 279.2 668.1 285 666 C290.8 663.9 312.5 656 320 652.6 C327.5 649.2 349.9 636.8 353.6 634.8" stroke-width="3.6" fill="none" stroke="#000" />
<path d="M353.3 623.4 L353.3 677.4" stroke-width="1.8" fill="none" stroke="#000" />
<path d="M375.2 396.3 L376.4 463.8" stroke-width="1.8" fill="none" stroke="#000" />
<path d="M332.8 517.2 C332.9 516.1 333.1 508.7 333.7 507.3 C334.2 506 335.7 503.4 339.4 500.8 C343.2 498.1 375 477.9 378.8 475.6 C382.7 473.4 383.8 473.5 385.4 474 C387 474.4 397.4 478.5 398.5 481.1 C399.7 483.6 399.5 502.5 399.4 504.9 C399.2 507.2 399.8 506.7 396.9 509 C394 511.3 367.1 530.7 364 532.8 C361 534.9 362.5 535 359.9 533.9 C357.3 532.9 335.1 521.9 332.8 520.5 C330.6 519.1 332.8 518.3 332.8 517.2 Z" stroke-width="3.3" fill="none" stroke="#000" />
<path d="M385.4 475.3 L385.4 495.8 L396.9 505.7" stroke-width="1.7" fill="none" stroke="#000" />
<path d="M385.4 495.8 L360.8 512.3 L361.6 532.8" stroke-width="1.7" fill="none" stroke="#000" />
<path d="M360.8 512.3 L338.6 504.9" stroke-width="2" fill="none" stroke="#000" />
<path d="M337.8 518.8 C337.9 517.9 337 510.2 338.6 509.8 C340.2 509.4 352.4 514 354.2 514.7 C356 515.5 356.5 516.4 356.7 517.5 C356.8 518.7 355.9 525.4 355.8 526.2" stroke-width="2" fill="none" stroke="#000" />
<path d="M338.1 517.2 L347.6 512.3" stroke-width="1.5" fill="none" stroke="#000" />
<path d="M309 540.5 C309.1 540.2 310.3 539.3 311.5 538.5 C312.7 537.8 325.9 530.1 327.1 529.5 C328.3 528.9 328.2 528.5 329.6 529 C330.9 529.5 346.3 536.3 347.6 536.9 C348.9 537.5 350.1 537.6 348.9 538.5 C347.7 539.5 331 550 329.6 550.9 C328.1 551.7 328.4 552.2 327.1 551.7 C325.8 551.1 311.9 543.4 310.7 542.6 C309.5 541.9 309 540.8 309 540.5 Z" stroke-width="1.8" fill="none" stroke="#000" />
<path d="M401.8 483.5 L412.5 515.5" stroke-width="1.7" fill="none" stroke="#000" />
<text transform="translate(307.5 626.5) rotate(-27.7)" x="0" y="0" font-size="27" font-weight="bold" font-family="'Liberation Sans', sans-serif" fill="#000" stroke="#000" stroke-width="0.9" textLength="113" lengthAdjust="spacingAndGlyphs">Kawasaki</text>
<path d="M370.9 609.3 C370.7 607.8 373.2 599.6 375.7 597.4 C378.2 595.1 393.4 587.6 395.8 586.8 C398.2 586 399.2 588 399.4 589.1 C399.6 590.2 400.3 595 398.2 597.4 C396.1 599.8 380.7 611.7 378 612.9 C375.3 614.1 371.1 610.8 370.9 609.3 Z" stroke-width="3.8" fill="none" stroke="#000" />
<path d="M621.8 368.1 C620.9 368.2 617 368.4 615.3 369.2 C613.5 369.9 609.9 372.3 608.7 373.5 C607.5 374.8 606.6 377.4 606.5 378.5 C606.4 379.5 606.9 380.8 607.6 381.2 C608.3 381.6 611 382.1 612 381.8 C612.9 381.4 614.1 379.6 614.7 378.5 C615.3 377.4 616.1 374.2 616.4 373.5" stroke-width="3" fill="none" stroke="#000" />
<path d="M616.4 373.4 L626.8 380.7 L686.4 419.5" stroke-width="3.8" fill="none" stroke="#000" />
<path d="M619.6 368.6 L637.9 359.5" stroke-width="1.9" fill="none" stroke="#000" />
<path d="M637.9 359.5 C638.7 359.2 641.1 357.8 642.8 357.7 C644.5 357.5 647.1 358.6 647.9 358.8" stroke-width="1.9" fill="none" stroke="#000" />
<path d="M647.9 358.8 L722.7 400.2" stroke-width="1.9" fill="none" stroke="#000" />
<path d="M722.7 400.2 C723.6 400.8 727.9 403.2 729.1 404.7 C730.3 406.3 731.1 410 731.9 412 C732.6 414.1 734.2 419.2 734.6 420.3" stroke-width="1.9" fill="none" stroke="#000" />
<path d="M734.6 420.3 L733.7 423.9 L739.2 425.2 L746.5 428.5" stroke-width="1.9" fill="none" stroke="#000" />
<path d="M746.5 428.5 C747.7 431 756.1 447.4 759.2 454 C762.3 460.6 775.4 488.7 777.5 494.2 C779.6 499.6 780.1 505.3 780.2 508.8 C780.4 512.2 779.4 526.5 778.9 528.8 C778.5 531.2 776.3 532.1 776 532.5" stroke-width="1.9" fill="none" stroke="#000" />
<path d="M776 532.5 L759.2 545.3" stroke-width="1.9" fill="none" stroke="#000" />
<path d="M759.2 545.3 C758.6 545.6 756.6 547 755.6 547.1 C754.5 547.1 753.3 545.9 752.8 545.6" stroke-width="1.9" fill="none" stroke="#000" />
<path d="M752.8 545.6 L747.9 540.7 L749.2 537 L752.3 535.2" stroke-width="2" fill="none" stroke="#000" />
<path d="M720.9 466.8 L741 510.6 L751.9 534.3 L758.3 544.3" stroke-width="2" fill="none" stroke="#000" />
<path d="M719.1 438 C720.2 437 723.9 432.7 726.4 431.6 C728.9 430.4 733 429.8 735.5 430.3 C738 430.8 741.3 432.7 742.8 434.9 C744.3 437 745.6 441.6 745.7 444.9 C745.9 448.2 745 453.5 743.9 456.8 C742.8 460 740.2 464.7 738.4 466.8 C736.7 468.9 733.5 470.5 732.2 470.8 C730.9 471.1 730.1 469.3 729.7 469" stroke-width="1.9" fill="none" stroke="#000" />
<path d="M730.9 434.3 C731.6 435.3 734.7 438.8 735.1 441.2 C735.6 443.6 734.9 447.7 734.1 450.4 C733.2 453 731.4 457 729.7 459.1 C728 461.3 724.1 463.4 722.7 464.6 C721.4 465.7 720.9 466.5 720.5 466.8" stroke-width="1.9" fill="none" stroke="#000" />
<path d="M720.5 466.8 L730 471.4" stroke-width="1.7" fill="none" stroke="#000" />
<path d="M739.3 433.4 C739.8 435.2 742.6 441.9 742.6 445.6 C742.6 449.4 740.8 454.9 739.3 458.4 C737.9 461.8 733.9 467.1 733 468.6" stroke-width="3.3" fill="none" stroke="#000" />
<path d="M629.5 376.8 L645.9 368.6" stroke-width="1.7" fill="none" stroke="#000" />
<path d="M645.9 368.6 C646.2 368.6 647 368.2 647.6 368.2 C648.1 368.3 648.9 369 649.2 369.2" stroke-width="1.7" fill="none" stroke="#000" />
<path d="M649.2 369.2 L703.9 402 L687.5 414.1 L686.4 419.5" stroke-width="1.7" fill="none" stroke="#000" />
<path d="M630 381.8 L644.8 374.6" stroke-width="1.7" fill="none" stroke="#000" />
<path d="M644.8 374.6 C645.1 374.5 645.9 374.1 646.5 374.1 C647 374.1 647.8 374.5 648.1 374.6" stroke-width="1.7" fill="none" stroke="#000" />
<path d="M648.1 374.6 L698.5 405.3" stroke-width="1.7" fill="none" stroke="#000" />
<path d="M625.7 382.3 C625.1 383.5 623.1 388.9 621.8 391.1 C620.5 393.2 616.3 396.8 615.8 398.7 C615.3 400.6 616.6 403.9 618 405.3 C619.4 406.7 625.1 408.6 626.2 409.1" stroke-width="3" fill="none" stroke="#000" />
<path d="M626.8 387.8 C626.3 388.9 624.4 394.6 623.5 396.5 C622.5 398.4 620.1 401.3 619.6 402" stroke-width="1.5" fill="none" stroke="#000" />
<path d="M636.1 395.4 C635.5 396.6 632.8 402.4 631.7 404.2 C630.5 405.9 627.9 408 627.3 408.6" stroke-width="1.7" fill="none" stroke="#000" />
<path d="M626.2 409.1 L655.2 488.7" stroke-width="2.9" fill="none" stroke="#000" />
<path d="M655.2 488.7 C655.8 489.6 657.3 493 658.9 494.2 C660.4 495.3 663.4 495.2 664.3 495.4" stroke-width="3" fill="none" stroke="#000" />
<path d="M664.3 495.4 L675.3 484.1 L684.4 485.4" stroke-width="2.9" fill="none" stroke="#000" />
<path d="M684.4 485.4 L708.1 498.7 L710.9 505.1 L733.7 517.9 L741 515.1 L747.4 517" stroke-width="2" fill="none" stroke="#000" />
<path d="M676.2 484.7 L708.1 500" stroke-width="3.3" fill="none" stroke="#000" />
<path d="M711.8 505.1 L733.7 518.8" stroke-width="3" fill="none" stroke="#000" />
<path d="M686.2 419.3 L691.7 417.9 L699.9 423.4 L701.8 428.5 L704.5 431.2 L717.6 439.8 L720.9 436.1" stroke-width="2.9" fill="none" stroke="#000" />
<path d="M702.7 420.3 L726.4 408.4" stroke-width="1.5" fill="none" stroke="#000" />
<path d="M704.5 430.7 C705.5 429.7 709.4 424.6 711.8 423.4 C714.2 422.1 719.8 421.2 722.7 421.2 C725.7 421.2 732.2 423.1 733.7 423.4" stroke-width="1.5" fill="none" stroke="#000" />
<path d="M658 404.7 L673.5 446.7 L671.6 466.8 L661.6 487.2" stroke-width="1.7" fill="none" stroke="#000" />
<path d="M671.6 466.8 L676.2 477.7 L683.5 482.3" stroke-width="1.5" fill="none" stroke="#000" />
<path d="M676.2 449.5 L720.9 471.4" stroke-width="1.5" fill="none" stroke="#000" />
<path d="M675.3 456.2 L725.5 481.8" stroke-width="1.5" fill="none" stroke="#000" />
<path d="M676.2 464.1 L730 490.1" stroke-width="1.5" fill="none" stroke="#000" />
<path d="M678 467.2 L731.5 494.2" stroke-width="1.5" fill="none" stroke="#000" />
<path d="M720.9 471.4 L720.9 466.8" stroke-width="1.5" fill="none" stroke="#000" />
<ellipse cx="655.2" cy="458.6" rx="2.7" ry="3.8" transform="rotate(30 655.2 458.6)" stroke-width="3" fill="none" stroke="#000"/>
<circle cx="655.2" cy="458.8" r="0.9" fill="#000" stroke="none"/>
<ellipse cx="756.9" cy="513.3" rx="5.5" ry="7.7" transform="rotate(30 756.9 513.3)" stroke-width="3.8" fill="none" stroke="#000"/>
<ellipse cx="756.7" cy="513.7" rx="2.2" ry="3.6" transform="rotate(30 756.7 513.7)" stroke-width="2" fill="none" stroke="#000"/>
<path d="M308.5 1000 C305.6 1003 292.6 1016.1 286.8 1022.5 C281 1029 271.1 1042.5 265.1 1048.4 C259.1 1054.3 246.8 1062.7 241.7 1066.8 C236.6 1070.9 229.2 1076.8 226.7 1079.3 C224.1 1081.9 223.1 1084.1 222.5 1086 C221.9 1087.9 221.9 1091.7 222 1093.5 C222.1 1095.3 223.2 1098.6 223.3 1099.3" stroke-width="1.9" fill="none" stroke="#000" />
<path d="M265.1 1048.8 L258.7 1055.4 L238.4 1082.2" stroke-width="1.8" fill="none" stroke="#000" />
<path d="M238.4 1082.2 C238.2 1082.7 236.8 1084.4 237 1085.5 C237.2 1086.6 239.1 1088.3 239.5 1088.8" stroke-width="1.8" fill="none" stroke="#000" />
<path d="M239.5 1088.8 L248.4 1097.7 L255.1 1104.4" stroke-width="1.8" fill="none" stroke="#000" />
<path d="M335.2 1000 L249.2 1097.2" stroke-width="1.8" fill="none" stroke="#000" />
<path d="M255.1 1104.4 C255.6 1104.2 258.5 1104.1 259.2 1103.2 C260 1102.3 259.9 1099.1 260.9 1097.7 C261.9 1096.2 264.6 1093.2 266.8 1092.2 C268.9 1091.1 274.4 1089.8 276.8 1089.8 C279.1 1089.9 282.9 1091.5 284.3 1092.7 C285.7 1093.8 286.9 1097 287.1 1098.5 C287.4 1100.1 286.7 1103.2 286 1104.4 C285.2 1105.5 282.3 1105.6 281.3 1106.9 C280.3 1108.1 278.6 1112.1 278.4 1113.5 C278.3 1115 279.9 1117.2 280.1 1117.7" stroke-width="1.8" fill="none" stroke="#000" />
<path d="M259.7 1102.2 C260.5 1101.9 263.3 1100.2 265.1 1099.8 C266.9 1099.5 271.2 1099.2 273.4 1099.8 C275.7 1100.5 280.7 1103.8 281.8 1104.4" stroke-width="1.7" fill="none" stroke="#000" />
<path d="M280.1 1117.7 L289.3 1123.6" stroke-width="1.8" fill="none" stroke="#000" />
<path d="M290.5 1122.7 L398 1013.7" stroke-width="1.8" fill="none" stroke="#000" />
<path d="M294.8 1124.4 L398 1019.7" stroke-width="1.8" fill="none" stroke="#000" />
<ellipse cx="241.7" cy="1097.3" rx="3.3" ry="2" transform="rotate(15 241.7 1097.3)" stroke-width="2" fill="none" stroke="#000"/>
<ellipse cx="272.6" cy="1108.5" rx="4.7" ry="3.3" transform="rotate(10 272.6 1108.5)" stroke-width="2.8" fill="none" stroke="#000"/>
<ellipse cx="272.6" cy="1108.5" rx="1.7" ry="1.3" transform="rotate(0 272.6 1108.5)" stroke-width="2.5" fill="none" stroke="#000"/>
<ellipse cx="295.1" cy="1131.1" rx="3.3" ry="2.2" transform="rotate(10 295.1 1131.1)" stroke-width="2.3" fill="none" stroke="#000"/>
<ellipse cx="347.7" cy="1129.9" rx="3" ry="2" transform="rotate(10 347.7 1129.9)" stroke-width="2.3" fill="none" stroke="#000"/>
<ellipse cx="379.1" cy="1117.7" rx="2.7" ry="2" transform="rotate(10 379.1 1117.7)" stroke-width="2.3" fill="none" stroke="#000"/>
<path d="M308.7 1001.5 C309.8 1000.4 317.8 992.5 320.1 990.2 C322.4 987.9 330.3 979.9 331.7 978.5 C333.2 977.1 334 976.4 334.7 976.1 C335.4 975.9 337.7 975.3 338.8 975.6 C339.8 976 343.8 978.5 345.1 979.3 C346.4 980.1 350.8 983.5 351.4 984" stroke-width="1.9" fill="none" stroke="#000" />
<path d="M351.4 984 L356.1 981.5 L360.1 990.2" stroke-width="1.9" fill="none" stroke="#000" />
<path d="M350.9 984.7 L335.1 1000.2" stroke-width="1.8" fill="none" stroke="#000" />
<path d="M295 1047.8 C297.1 1045.6 343.8 999.7 345.9 997.7 C348.1 995.6 347.1 995.3 348.4 996 C349.8 996.7 378 1014.3 379.3 1015.2 C380.6 1016.1 382.9 1016.7 381 1018.9 C379.1 1021 333.6 1066.9 331.4 1069 C329.2 1071.1 327.4 1071.8 325.9 1071.1 C324.4 1070.5 295.9 1052.5 294.7 1051.6 C293.4 1050.7 293 1049.9 295 1047.8 Z" stroke-width="1.9" fill="none" stroke="#000" />
<path d="M302.5 1051.1 C304.7 1048.9 344.4 1009.1 346.8 1006.9 C349.1 1004.6 348 1004.9 349.3 1005.5 C350.5 1006.2 370.6 1018.5 371.8 1019.4 C373 1020.2 372.6 1022.6 372.7 1022.7" stroke-width="1.7" fill="none" stroke="#000" />
<path d="M310 1052.8 L348.4 1015.2 L368.5 1026.9" stroke-width="1.7" fill="none" stroke="#000" />
<path d="M325.9 1031.9 L329.2 1050.3 L333.4 1052.8" stroke-width="1.8" fill="none" stroke="#000" />
<path d="M325.9 1031.9 L343.4 1016.9" stroke-width="1.7" fill="none" stroke="#000" />
<path d="M341.8 1016.9 L342.1 1038.6" stroke-width="3.3" fill="none" stroke="#000" />
<path d="M345.9 1016.9 L346.4 1036.1" stroke-width="1.7" fill="none" stroke="#000" />
<path d="M346.4 1036.1 L358.5 1040.3" stroke-width="1.5" fill="none" stroke="#000" />
<path d="M345.1 1015.2 C346.2 1014.8 349.8 1013.4 351.8 1012.7 C353.7 1012 356 1011.3 356.8 1011" stroke-width="2.8" fill="none" stroke="#000" />
<ellipse cx="342.1" cy="1048.6" rx="7.5" ry="6.3" transform="rotate(-15 342.1 1048.6)" stroke-width="2.3" fill="none" stroke="#000"/>
<path d="M336.8 1051.1 C337.6 1051.7 339.8 1054.4 341.8 1054.4 C343.7 1054.4 347.3 1051.7 348.4 1051.1" stroke-width="1.7" fill="none" stroke="#000" />
<path d="M320.9 1064.5 L325.9 1067.8" stroke-width="3.8" fill="none" stroke="#000" />
<path d="M320.9 1064.5 L330.9 1055.3 L358.5 1040.3 L372.7 1022.7" stroke-width="1.7" fill="none" stroke="#000" />
<path d="M370.1 1024.4 L373.5 1022.7" stroke-width="3.8" fill="none" stroke="#000" />
<path d="M360.1 983 L446.6 932.6 L454.5 935.1" stroke-width="3.8" fill="none" stroke="#000" />
<path d="M363.5 991.5 L454.5 938.7" stroke-width="1.8" fill="none" stroke="#000" />
<path d="M360.1 990.2 L363.5 996.8 L388.5 1013.5 L396.9 1008.5 L400.2 1011 L399.4 1015.5" stroke-width="1.9" fill="none" stroke="#000" />
<path d="M381 1019.4 L390.2 1016.9" stroke-width="1.7" fill="none" stroke="#000" />
<path d="M367.6 991.5 L368.5 1001.9" stroke-width="1.7" fill="none" stroke="#000" />
<path d="M371.8 990.2 L372.7 1002.7" stroke-width="1.7" fill="none" stroke="#000" />
<path d="M392.7 976 L395.2 1006.9" stroke-width="1.7" fill="none" stroke="#000" />
<path d="M396.9 974.8 L400.2 1005.5" stroke-width="1.7" fill="none" stroke="#000" />
<path d="M443.6 945.1 L450.3 1001.9 L451 1006.9" stroke-width="1.7" fill="none" stroke="#000" />
<path d="M447.8 943.7 L453.6 1000.2 L454.3 1006.2" stroke-width="1.7" fill="none" stroke="#000" />
<path d="M400.2 1015.2 L428.6 1033.6" stroke-width="1.7" fill="none" stroke="#000" />
<path d="M420.1 960 C420.4 964.5 421.6 984.5 422.6 993.4 C423.6 1002.3 426.2 1020.3 427.4 1026.8 C428.6 1033.3 430.2 1039.3 431.5 1042 C432.8 1044.7 435.5 1046.8 437 1047.3 C438.5 1047.8 442.2 1045.7 443 1045.5" stroke-width="3.4" fill="none" stroke="#000" />
<path d="M443 1045.5 L537 1000.1" stroke-width="3.7" fill="none" stroke="#000" />
<path d="M537 1000.1 C537.7 999.3 541.3 996.1 542 994.2 C542.7 992.3 543.2 988.5 542.3 985.9 C541.4 983.3 538.2 978.5 535.3 975 C532.4 971.5 522.3 962 520.3 960" stroke-width="3.2" fill="none" stroke="#000" />
<path d="M428 1044 C428.8 1044.9 431.6 1050 433.7 1051.1 C435.8 1052.2 442.4 1051.9 443.7 1052" stroke-width="1.7" fill="none" stroke="#000" />
<path d="M443.7 1052 L548.4 1001" stroke-width="1.7" fill="none" stroke="#000" />
<path d="M548.4 1001 C549.1 1000.5 552.7 998.7 553.9 997.4 C555.1 996.1 556.9 992.4 557.1 991 C557.3 989.6 555.5 987.5 555.3 987" stroke-width="1.8" fill="none" stroke="#000" />
<path d="M425.1 1040.1 C426 1041.8 429.6 1050.6 431.8 1052.7 C434 1054.8 439.4 1055.9 441.8 1056 C444.2 1056.1 449 1054.1 450.1 1053.8" stroke-width="1.9" fill="none" stroke="#000" />
<path d="M450.1 1053.8 L503.9 1029.2" stroke-width="1.9" fill="none" stroke="#000" />
<path d="M506.7 1027.4 L548.4 1005.6" stroke-width="1.9" fill="none" stroke="#000" />
<path d="M548.4 1005.6 C549.4 1005 554.1 1002.3 555.7 1001 C557.3 999.7 559.5 997.1 560.3 995.5 C561.1 993.9 561.4 990 561.6 989.2" stroke-width="1.9" fill="none" stroke="#000" />
<path d="M415.9 960 C416.2 963.3 418 986.7 418.8 993.4 C419.6 1000.1 423 1022.3 423.8 1026.8 C424.6 1031.3 426.5 1037.3 426.8 1038.5" stroke-width="1.7" fill="none" stroke="#000" />
<path d="M437 1057.5 L497.6 1033 L507 1027.3 L498 1035 L438 1062.8 Z" stroke-width="1.3" fill="#000" stroke="#000" />
<path d="M396.7 1008.4 L400.1 1010.9 L399.2 1015.1" stroke-width="1.8" fill="none" stroke="#000" />
<path d="M400.1 1011.8 L420.9 1030.1" stroke-width="1.8" fill="none" stroke="#000" />
<path d="M336.6 1121.5 L420.9 1031" stroke-width="4.1" fill="none" stroke="#000" />
<path d="M370.9 1098.2 L424.3 1042.2" stroke-width="1.7" fill="none" stroke="#000" />
<path d="M373.5 1098.5 L426.5 1043.5" stroke-width="1.7" fill="none" stroke="#000" />
<path d="M370.9 1098.2 C371.9 1097.6 377.9 1094.2 381.1 1092.3 C384.3 1090.4 397.2 1082.5 403 1079.2 C408.8 1075.9 431.9 1062.1 439.5 1058.8 C447.1 1055.5 474.6 1047.3 478.5 1046" stroke-width="4.3" fill="none" stroke="#000" />
<ellipse cx="424.9" cy="1133.2" rx="11.5" ry="8.6" transform="rotate(-35 424.9 1133.2)" stroke-width="2.3" fill="none" stroke="#000"/>
<path d="M417 1139 C417.9 1139.5 422 1142.4 424 1142.5 C426 1142.6 430.4 1140.9 432 1139.5 C433.6 1138.1 435.5 1133 436 1132" stroke-width="3.3" fill="none" stroke="#000" />
<ellipse cx="408.8" cy="1140.5" rx="3" ry="2.2" transform="rotate(-20 408.8 1140.5)" stroke-width="2" fill="none" stroke="#000"/>
<ellipse cx="415.9" cy="1101.1" rx="3.3" ry="2.2" transform="rotate(10 415.9 1101.1)" stroke-width="2.5" fill="none" stroke="#000"/>
<path d="M445.1 1117.8 C444.6 1117.7 442.6 1116.6 441.8 1117 C441 1117.3 440.2 1119.2 440.5 1120 C440.7 1120.7 442.7 1121.4 443.1 1121.6" stroke-width="2" fill="none" stroke="#000" />
<path d="M445.1 1134.5 C444.6 1134.3 442.6 1133.3 441.8 1133.7 C441 1134 440.2 1135.9 440.5 1136.7 C440.7 1137.4 442.7 1138 443.1 1138.3" stroke-width="2" fill="none" stroke="#000" />
<path d="M403.4 1074.4 L404.2 1197" stroke-width="1.8" fill="none" stroke="#000" />
<circle cx="403.4" cy="1074.4" r="1.3" fill="#000" stroke="none"/>
<path d="M434.1 1025.1 C433.9 1024.1 435.9 1019.4 436.9 1017.8 C437.8 1016.3 441.8 1010.8 443.2 1009.6 C444.7 1008.5 449.9 1006.8 451.5 1006.4 C453 1006.1 457.7 1006.5 458.8 1006 C459.9 1005.4 461.6 1001.6 462.4 1001 C463.2 1000.3 466 999.5 467 999.6 C468 999.7 471.2 1001.7 472.4 1002.3 C473.7 1003 478.8 1005.2 479.7 1006 C480.7 1006.8 481.9 1009.5 481.6 1010.5 C481.2 1011.6 477.2 1015 476.1 1016 C475 1017 472.3 1019.8 470.6 1020.6 C469 1021.4 461.2 1023.4 459.7 1024.2 C458.1 1025.1 456.2 1028.2 455.1 1028.8 C454 1029.4 450.4 1030.7 448.7 1030.6 C447.1 1030.5 440.1 1028.4 438.7 1027.9 C437.2 1027.3 434.3 1026.1 434.1 1025.1 Z" stroke-width="2.2" fill="none" stroke="#000" />
<path d="M444.6 1016 C444.7 1014.8 447.1 1012.4 448.7 1011.5 C450.4 1010.5 455 1009.4 456.9 1009.2 C458.9 1009 462.3 1009.4 463.3 1010.1 C464.3 1010.8 464.6 1012.9 464.2 1014.2 C463.9 1015.5 461.9 1018.6 460.6 1019.7 C459.2 1020.8 455.9 1022.3 454.2 1022.4 C452.5 1022.5 449.1 1021.4 447.8 1020.6 C446.5 1019.7 444.5 1017.2 444.6 1016 Z" stroke-width="2" fill="none" stroke="#000" />
<path d="M464.2 1011.5 L469.3 1015.1 L467.9 1019.2 L463.3 1019.7 L465.1 1015.1 Z" stroke-width="1.3" fill="#000" stroke="#000" />
<ellipse cx="442.3" cy="1022.4" rx="4.1" ry="2.5" transform="rotate(-15 442.3 1022.4)" stroke-width="1.9" fill="#000" stroke="#000"/>
<ellipse cx="473.8" cy="1007.4" rx="3.8" ry="2.5" transform="rotate(-15 473.8 1007.4)" stroke-width="1.9" fill="#000" stroke="#000"/>
<ellipse cx="450.1" cy="1027" rx="2" ry="1.6" transform="rotate(0 450.1 1027)" stroke-width="3" fill="none" stroke="#000"/>
<ellipse cx="467" cy="1002.8" rx="2.2" ry="1.4" transform="rotate(-10 467 1002.8)" stroke-width="3" fill="none" stroke="#000"/>
<path d="M434.6 1026.1 L435 1042" stroke-width="3.3" fill="none" stroke="#000" />
<path d="M438.7 1028.8 L439.1 1043.4" stroke-width="1.8" fill="none" stroke="#000" />
<path d="M443.2 1030.6 L443.7 1041.8" stroke-width="1.8" fill="none" stroke="#000" />
<path d="M455.1 1029 L455.1 1036.6" stroke-width="1.8" fill="none" stroke="#000" />
<path d="M449.2 1034.7 L452.4 1034.3 L453.3 1038.4 L450.1 1038.8 Z" stroke-width="1.3" fill="#000" stroke="#000" />
<path d="M476.1 1020.6 L479.7 1017.8 L482 1021.5 L477.5 1024.2 Z" stroke-width="1.3" fill="#000" stroke="#000" />
<path d="M481.6 1011 L482 1021" stroke-width="1.9" fill="none" stroke="#000" />
<path d="M481.6 1006.2 C482.5 1006.1 487.2 1005.5 488.9 1006 C490.6 1006.4 493.1 1008.6 494.3 1009.5 C495.6 1010.3 497.5 1012 498 1012.4" stroke-width="2.3" fill="none" stroke="#000" />
<path d="M483.4 1011.6 C484.1 1011.5 487.6 1010.4 488.9 1010.5 C490.1 1010.7 492.4 1012.3 493 1012.6" stroke-width="2" fill="none" stroke="#000" />
<path d="M488.9 1015.1 L496.2 1011.6 L506.2 1008.9" stroke-width="3.3" fill="none" stroke="#000" />
<path d="M431.7 903.5 L430 873.4" stroke-width="1.9" fill="none" stroke="#000" />
<path d="M430.4 873.8 L465.1 859.2 L472.6 864.6 L505.7 846.2" stroke-width="3.8" fill="none" stroke="#000" />
<path d="M435 877.9 L466.8 863.7 L474.3 867.9 L507.2 851.4" stroke-width="1.8" fill="none" stroke="#000" />
<path d="M505.7 846.2 L509.7 851.1 L561.9 884.3" stroke-width="1.9" fill="none" stroke="#000" />
<path d="M561.9 884.3 L538.2 901.8 L536.9 906.8 L508.5 928.5 L505.2 932.9 L483.5 933.5 L431.7 903.5" stroke-width="2" fill="none" stroke="#000" />
<path d="M429.7 875.9 C429.5 875.4 428.4 873.3 428.7 872.6 C429 871.8 430.9 871.6 431.4 871.4" stroke-width="2" fill="none" stroke="#000" />
<ellipse cx="488.5" cy="897.6" rx="16.4" ry="9.2" transform="rotate(-3 488.5 897.6)" stroke-width="2.3" fill="none" stroke="#000"/>
<path d="M476 902.7 C477 902.1 481.1 899.1 483.5 898.5 C485.8 897.8 491.1 897.2 493.5 897.6 C495.9 898.1 500.4 901.3 501.5 901.8" stroke-width="2" fill="none" stroke="#000" />
<path d="M487.6 865.1 C487.4 864 490.1 861.6 491.8 860.9 C493.5 860.2 498.5 859.5 500.2 859.7 C501.8 860 504 861.5 504.3 862.6 C504.7 863.6 504.1 866.7 502.7 867.6 C501.2 868.5 495.5 869.6 493.5 869.3 C491.5 868.9 487.9 866.2 487.6 865.1 Z" stroke-width="3" fill="none" stroke="#000" />
<path d="M525.2 885.1 C525.2 884.2 527.1 881.7 528.6 880.9 C530 880.2 534.6 879.1 536.1 879.3 C537.5 879.5 539.4 881.6 539.4 882.6 C539.4 883.6 537.5 886.1 536.1 886.8 C534.6 887.5 530 888.3 528.6 888.1 C527.1 887.9 525.2 886.1 525.2 885.1 Z" stroke-width="3" fill="none" stroke="#000" />
<ellipse cx="454.7" cy="878.4" rx="2" ry="1.3" transform="rotate(0 454.7 878.4)" stroke-width="1.7" fill="none" stroke="#000"/>
<ellipse cx="442.6" cy="883.4" rx="2" ry="1.3" transform="rotate(0 442.6 883.4)" stroke-width="1.7" fill="none" stroke="#000"/>
<ellipse cx="444.7" cy="890.1" rx="2" ry="1.3" transform="rotate(0 444.7 890.1)" stroke-width="1.7" fill="none" stroke="#000"/>
<ellipse cx="445.1" cy="904.3" rx="2" ry="1.3" transform="rotate(0 445.1 904.3)" stroke-width="1.7" fill="none" stroke="#000"/>
<ellipse cx="465.1" cy="896.8" rx="2" ry="1.3" transform="rotate(0 465.1 896.8)" stroke-width="1.7" fill="none" stroke="#000"/>
<ellipse cx="489.8" cy="883.1" rx="2" ry="1.3" transform="rotate(0 489.8 883.1)" stroke-width="1.7" fill="none" stroke="#000"/>
<ellipse cx="512.7" cy="899.8" rx="2" ry="1.3" transform="rotate(0 512.7 899.8)" stroke-width="1.7" fill="none" stroke="#000"/>
<ellipse cx="488.5" cy="913" rx="2" ry="1.3" transform="rotate(0 488.5 913)" stroke-width="1.7" fill="none" stroke="#000"/>
<ellipse cx="444.2" cy="897.1" rx="3.3" ry="1.7" transform="rotate(0 444.2 897.1)" stroke-width="2.4" fill="none" stroke="#000"/>
<path d="M430.9 904.3 C430.4 904.8 427.9 906.5 427.5 907.7 C427.2 908.8 427.4 911.3 428.4 912.7 C429.4 914 434.2 917 435 917.7" stroke-width="1.9" fill="none" stroke="#000" />
<path d="M435 917.7 L481.8 943.6 L512.7 943.2" stroke-width="1.9" fill="none" stroke="#000" />
<path d="M512.7 943.2 C513.7 943.6 516.7 943.8 518.5 945.2 C520.3 946.7 522.7 950.8 523.5 951.9" stroke-width="1.9" fill="none" stroke="#000" />
<path d="M523.5 951.9 L555.3 987" stroke-width="1.9" fill="none" stroke="#000" />
<path d="M425.9 907.7 C425.6 908.4 423.4 911.9 423.7 913.5 C424 915.1 427.7 918.6 428.4 919.3" stroke-width="3.3" fill="none" stroke="#000" />
<path d="M428.4 919.3 L479.3 948.6" stroke-width="3.3" fill="none" stroke="#000" />
<path d="M479.3 948.6 C480 948.9 481.9 950.2 483.5 950.6 C485 950.9 487.6 950.6 488.5 950.6" stroke-width="3.3" fill="none" stroke="#000" />
<path d="M488.5 950.6 L508.5 949.9" stroke-width="3.3" fill="none" stroke="#000" />
<path d="M508.5 949.9 C509.5 950.2 512.7 950.9 514.4 951.9 C516 952.9 517.8 955.4 518.5 956.1" stroke-width="3.3" fill="none" stroke="#000" />
<path d="M518.5 956.1 L541.9 984.5" stroke-width="3.3" fill="none" stroke="#000" />
<path d="M541.9 984.5 C542.3 985.4 545.1 987.5 544.4 990.3 C543.7 993.1 538.8 999.4 537.7 1001.2" stroke-width="3.3" fill="none" stroke="#000" />
<path d="M483.5 935.2 L483.5 940.2" stroke-width="1.7" fill="none" stroke="#000" />
<path d="M481 951.9 L481.8 966.9" stroke-width="1.7" fill="none" stroke="#000" />
<path d="M484.3 951.9 L485.1 963.6" stroke-width="1.7" fill="none" stroke="#000" />
<path d="M537.2 902.7 L570.3 885.5" stroke-width="3.8" fill="none" stroke="#000" />
<path d="M508.5 928.9 L536.9 907.2" stroke-width="2.4" fill="none" stroke="#000" />
<path d="M508.5 929.4 L513.5 926.9" stroke-width="1.8" fill="none" stroke="#000" />
<path d="M561.7 881.8 L585.1 870.1 L607.6 858.8" stroke-width="1.9" fill="none" stroke="#000" />
<path d="M607.6 858.8 C608.3 859.3 610 861.4 611.8 862.1 C613.6 862.8 617.4 862.9 618.5 863.1" stroke-width="1.8" fill="none" stroke="#000" />
<path d="M570.9 886.8 C571.2 886.2 571.8 883.2 573.4 881.8 C575 880.5 580.7 877.5 582.6 876.8 C584.5 876.1 586.9 876.5 587.6 876.5" stroke-width="1.9" fill="none" stroke="#000" />
<path d="M587.6 876.5 L631 901.9" stroke-width="1.9" fill="none" stroke="#000" />
<path d="M631 901.9 C631.4 902.3 633.2 903.4 633.2 904.4 C633.2 905.3 631.4 907.1 631 907.7" stroke-width="1.9" fill="none" stroke="#000" />
<path d="M631 907.7 L597.6 931.9" stroke-width="1.9" fill="none" stroke="#000" />
<path d="M597.6 931.9 C596.9 932.2 594.7 933.7 593.4 933.6 C592.2 933.4 590.6 931.5 590.1 931.1" stroke-width="1.9" fill="none" stroke="#000" />
<path d="M590.1 931.1 L571.7 916.9 L570.9 886.8" stroke-width="1.9" fill="none" stroke="#000" />
<path d="M587.6 880.1 L585.1 926.1 L590.1 931.1" stroke-width="1.7" fill="none" stroke="#000" />
<path d="M606.8 924.4 L613.5 919.4" stroke-width="1.7" fill="none" stroke="#000" />
<path d="M592.1 929.9 L598.4 927.7" stroke-width="5.1" fill="none" stroke="#000" />
<ellipse cx="606.8" cy="923.6" rx="2.3" ry="1.7" transform="rotate(0 606.8 923.6)" stroke-width="2.3" fill="none" stroke="#000"/>
<ellipse cx="590.9" cy="869.8" rx="2.7" ry="2" transform="rotate(10 590.9 869.8)" stroke-width="2.5" fill="none" stroke="#000"/>
<ellipse cx="595.9" cy="874.3" rx="2.7" ry="2" transform="rotate(10 595.9 874.3)" stroke-width="2.5" fill="none" stroke="#000"/>
<ellipse cx="603.4" cy="870.5" rx="2.7" ry="2" transform="rotate(10 603.4 870.5)" stroke-width="2.5" fill="none" stroke="#000"/>
<ellipse cx="644.4" cy="895.5" rx="2.7" ry="2" transform="rotate(10 644.4 895.5)" stroke-width="2.5" fill="none" stroke="#000"/>
<ellipse cx="636.5" cy="899.7" rx="2.7" ry="2" transform="rotate(10 636.5 899.7)" stroke-width="2.5" fill="none" stroke="#000"/>
<ellipse cx="642.7" cy="903.9" rx="2.7" ry="2" transform="rotate(10 642.7 903.9)" stroke-width="2.5" fill="none" stroke="#000"/>
<path d="M608.5 873.5 L616 867.6" stroke-width="1.8" fill="none" stroke="#000" />
<path d="M616 867.6 L616.8 881.8" stroke-width="3" fill="none" stroke="#000" />
<path d="M621 866.8 L621.8 883.5" stroke-width="1.8" fill="none" stroke="#000" />
<path d="M608.5 874.3 L633.5 891" stroke-width="1.8" fill="none" stroke="#000" />
<path d="M633.5 891 C634.1 891.2 635.7 892.2 636.8 892.2 C638 892.2 639.6 891.2 640.2 891" stroke-width="1.8" fill="none" stroke="#000" />
<path d="M640.2 891 L650.2 886.8 L652.2 884.5" stroke-width="1.8" fill="none" stroke="#000" />
<path d="M661.9 889.3 L689.4 912.2" stroke-width="1.8" fill="none" stroke="#000" />
<path d="M689.4 912.2 C689.8 912.4 690.9 913.2 691.6 913.2 C692.4 913.2 693.6 912.4 693.9 912.2" stroke-width="1.8" fill="none" stroke="#000" />
<path d="M540 903.9 L595.9 947.8" stroke-width="1.8" fill="none" stroke="#000" />
<path d="M595.9 947.8 L678.9 905.5" stroke-width="1.8" fill="none" stroke="#000" />
<path d="M595.9 947.8 C596.1 948 596.3 949.2 596.8 949.4 C597.2 949.7 598.4 949.4 598.8 949.4" stroke-width="1.8" fill="none" stroke="#000" />
<path d="M583.4 957.8 C581.2 959.3 573.7 963.1 570.1 967 C566.4 970.9 563.1 978.8 561.7 981.2" stroke-width="1.7" fill="none" stroke="#000" />
<ellipse cx="546.7" cy="926.1" rx="1.7" ry="3.2" transform="rotate(25 546.7 926.1)" stroke-width="2" fill="none" stroke="#000"/>
<ellipse cx="559.2" cy="915.2" rx="1.7" ry="3.2" transform="rotate(25 559.2 915.2)" stroke-width="2" fill="none" stroke="#000"/>
<ellipse cx="668.6" cy="939.4" rx="1.7" ry="2.7" transform="rotate(25 668.6 939.4)" stroke-width="2.5" fill="none" stroke="#000"/>
<ellipse cx="704.5" cy="921.1" rx="1.7" ry="2.7" transform="rotate(25 704.5 921.1)" stroke-width="2.5" fill="none" stroke="#000"/>
<path d="M781.7 781.9 L782.3 791.4" stroke-width="1.9" fill="none" stroke="#000" />
<path d="M779.3 783.6 L782.3 782.2" stroke-width="1.7" fill="none" stroke="#000" />
<path d="M739 802 C741.2 802.8 768.8 812.2 772.2 813.9 C775.6 815.6 788.8 827.2 790 828.1" stroke-width="3.6" fill="none" stroke="#000" />
<path d="M772.2 815.1 L798.3 831.7 L803 832.9" stroke-width="2.8" fill="none" stroke="#000" />
<path d="M763.3 816.3 C763.7 816 764.6 814.8 765.7 814.5 C766.8 814.1 769.1 814.2 769.8 814.1" stroke-width="1.8" fill="none" stroke="#000" />
<path d="M782.3 791.4 L795.9 799.7 L776.9 811.5" stroke-width="1.9" fill="none" stroke="#000" />
<path d="M795.9 799.7 L817.3 791.4" stroke-width="1.9" fill="none" stroke="#000" />
<path d="M817.3 791.4 C817.7 791.3 819.1 790.8 819.9 790.9 C820.7 791 821.9 791.9 822.3 792.1" stroke-width="1.9" fill="none" stroke="#000" />
<path d="M786.4 816.3 C787.5 815.7 795.6 810.9 797.1 810.3 C798.6 809.8 801.4 810.9 801.9 810.9" stroke-width="3" fill="none" stroke="#000" />
<path d="M801.9 810.9 L837.4 832.9" stroke-width="3" fill="none" stroke="#000" />
<path d="M837.4 832.9 C837.6 833.2 838.7 834.1 838.6 834.7 C838.5 835.2 837.1 835.9 836.8 836.2" stroke-width="3" fill="none" stroke="#000" />
<path d="M836.8 836.2 L824.4 841.2" stroke-width="3" fill="none" stroke="#000" />
<path d="M791.2 817.4 L823.2 840" stroke-width="1.8" fill="none" stroke="#000" />
<path d="M797.1 825.8 L805.4 832.9" stroke-width="3.3" fill="none" stroke="#000" />
<path d="M786.4 816.9 L823.2 840 L824.4 841.2" stroke-width="1.7" fill="none" stroke="#000" />
<ellipse cx="838" cy="810.3" rx="5.3" ry="3.6" transform="rotate(-5 838 810.3)" stroke-width="3.3" fill="none" stroke="#000"/>
<path d="M801.9 857.8 L850 834.7" stroke-width="1.8" fill="none" stroke="#000" />
<path d="M781.7 851.3 C782 851.3 783.7 851.2 784.7 851.9 C785.6 852.5 789.5 857.2 791.2 857.8 C792.9 858.4 800.8 857.8 801.9 857.8" stroke-width="1.8" fill="none" stroke="#000" />
<path d="M784.7 852.4 L790 857.8" stroke-width="2.5" fill="none" stroke="#000" />
<path d="M793.5 860.2 C794.4 860.1 800.2 859.3 801.9 859.2 C803.5 859.1 809.3 859.5 810.2 859.6" stroke-width="1.8" fill="none" stroke="#000" />
<path d="M810.2 859.6 L850 840" stroke-width="1.8" fill="none" stroke="#000" />
<path d="M822.7 791.4 L869.5 821.6" stroke-width="1.9" fill="none" stroke="#000" />
<path d="M869.5 821.6 C870.1 822.2 872.4 823.7 873.1 825.1 C873.7 826.6 873.4 829.5 873.5 830.3" stroke-width="1.9" fill="none" stroke="#000" />
<path d="M873.5 830.3 L874.3 844.9 L897.6 859.9" stroke-width="1.9" fill="none" stroke="#000" />
<path d="M850.2 839.9 L873.7 827.8" stroke-width="1.8" fill="none" stroke="#000" />
<path d="M791.5 883.4 L869.5 847.4 L874.3 844.9" stroke-width="1.8" fill="none" stroke="#000" />
<path d="M848.7 856.3 L874.7 871.9" stroke-width="1.8" fill="none" stroke="#000" />
<path d="M755.1 878.6 C755.6 878.5 759 877.7 760.3 877.3 C761.7 877 766.4 876.2 768.6 875.1 C770.9 873.9 780.9 867.5 783.2 866.1 C785.5 864.8 790.7 862 791.5 861.5" stroke-width="1.8" fill="none" stroke="#000" />
<path d="M756.2 881.3 L755.8 896.3" stroke-width="1.8" fill="none" stroke="#000" />
<path d="M762.4 880.3 L762 897.3" stroke-width="1.8" fill="none" stroke="#000" />
<path d="M755.8 896.9 C756.3 897.3 758 899.1 759.3 899.4 C760.6 899.7 762.8 898.7 763.4 898.6" stroke-width="1.8" fill="none" stroke="#000" />
<path d="M763.4 898.6 L791.5 883.4" stroke-width="1.8" fill="none" stroke="#000" />
<path d="M905.9 859 C906.8 859.4 910.9 860.6 912.2 861.5 C913.5 862.5 915.4 864.4 915.9 866.1 C916.5 867.8 916.6 872.4 916.4 874 C916.1 875.6 914.5 877.6 914.3 878.2" stroke-width="1.9" fill="none" stroke="#000" />
<path d="M820.7 908.3 L915.3 866.1" stroke-width="1.8" fill="none" stroke="#000" />
<path d="M771.8 711.8 L772.8 862.6" stroke-width="1.7" fill="none" stroke="#000" />
<circle cx="772.8" cy="863.2" r="1.5" fill="#000" stroke="none"/>
<circle cx="780.1" cy="879.2" r="1.5" fill="#000" stroke="none"/>
<path d="M780.1 879.2 L878.9 942.7" stroke-width="1.7" fill="none" stroke="#000" />
<ellipse cx="704.2" cy="920.8" rx="1.9" ry="2.9" transform="rotate(25 704.2 920.8)" stroke-width="2.5" fill="none" stroke="#000"/>
<path d="M289.3 1123.6 C292.1 1124.8 311.4 1133.5 315.2 1134.9 C319 1136.3 319.8 1136.9 323.5 1136.1 C327.2 1135.3 343.1 1129.5 348.6 1127.7 C354.1 1125.9 367.8 1122.4 373.8 1120.1 C379.8 1117.8 395 1110.9 403 1106.9 C411 1102.9 437.2 1088.6 446.8 1083.6 C456.4 1078.6 473.8 1069.9 490 1061.7 C506.2 1053.5 577.4 1017.3 593.9 1009.2 C610.4 1001.1 628.3 993.5 640 988 C651.7 982.5 686.8 965.5 700 959.3 C713.2 953.1 747.2 938 760 931.8 C772.8 925.6 800.4 911.1 816.5 903.1 C832.6 895.1 896.2 863.9 906 859" stroke-width="1.9" fill="none" stroke="#000" />
<path d="M222.5 1093.5 C224.8 1095.2 238 1104.8 243.4 1108.5 C248.8 1112.2 266.1 1123.4 271.8 1126.9 C277.5 1130.4 291.1 1138.3 295.1 1140.3 C299.1 1142.3 305.4 1144.2 308.5 1144.9 C311.6 1145.6 319.5 1147.2 323.5 1146.9 C327.5 1146.6 339.7 1143.4 345.2 1141.9 C350.7 1140.4 367.4 1135.6 373.8 1133.2 C380.2 1130.8 395 1124.1 403 1120.1 C411 1116.1 437.2 1101.5 446.8 1096.7 C456.4 1091.9 479.9 1081.1 490 1076.3 C500.1 1071.5 526.7 1058.9 538.4 1053 C550.1 1047.1 585.6 1028.1 596.8 1022.3 C608 1016.5 628.6 1006.3 640 1000.4 C651.4 994.5 686.8 975 700 968.7 C713.2 962.4 745.8 948.8 760 943 C774.2 937.2 812 922.7 829 915.6 C846 908.5 904.9 882.3 914.3 878.2" stroke-width="1.9" fill="none" stroke="#000" />
<path d="M223.3 1100.2 C225.1 1101.9 236.3 1111.9 240 1115.2 C243.7 1118.5 253 1127.3 256.7 1130.2 C260.4 1133.1 269.7 1139.7 273.4 1141.9 C277.1 1144.1 286.4 1148.8 290.1 1150.3 C293.8 1151.8 303.1 1154.5 306.8 1155.3 C310.5 1156.1 318.9 1157.7 323.5 1157.3 C328.1 1156.9 343.1 1153.1 348.6 1151.5 C354.1 1149.9 367.8 1145 373.8 1142.5 C379.8 1140 395 1132.7 403 1128.8 C411 1124.9 437.2 1111.6 446.8 1106.9 C456.4 1102.2 479.9 1091.1 490 1086.5 C500.1 1081.9 526.7 1070.5 538.4 1064.7 C550.1 1058.9 585.6 1039.8 596.8 1034 C608 1028.2 628.6 1017.6 640 1012.1 C651.4 1006.6 686.5 990.3 700 984.3 C713.5 978.3 746.4 965 762.4 957.2 C778.4 949.4 831.3 921 845.6 913.5 C859.9 906 887.3 891.7 892.4 889" stroke-width="1.9" fill="none" stroke="#000" />
<path d="M256.7 1131.9 C257.6 1133.2 262.7 1141 265.1 1143.6 C267.5 1146.2 274.7 1152.9 278.4 1155.3 C282.1 1157.7 293.5 1163.5 298.5 1165.3 C303.5 1167.1 318 1171.2 323.5 1172 C329 1172.8 343.9 1173.2 348.6 1173 C353.3 1172.8 362.1 1170.8 366.5 1170.5 C370.9 1170.2 384.4 1170.7 388.4 1170.4 C392.4 1170.1 398.2 1169.6 403 1168.2 C407.8 1166.8 425.8 1160.6 432.2 1158 C438.6 1155.4 455 1147.7 461.4 1144.9 C467.8 1142.1 481.5 1136.5 490 1132.5 C498.5 1128.5 526.7 1114.5 538.4 1108.5 C550.1 1102.5 585.6 1083.9 596.8 1077.8 C608 1071.7 632.2 1057.7 640 1053 C647.8 1048.3 656.7 1041.1 668.1 1034.8 C679.5 1028.5 726.5 1005.4 743.7 995.7 C760.9 986 811.3 955.8 824.8 946.8 C838.3 937.8 859 919.8 866.4 913.5 C873.8 907.2 889.5 892.2 892.4 889.6" stroke-width="2" fill="none" stroke="#000" />
<path d="M312.7 1164.5 C314.8 1164.5 328 1164.5 331.9 1164.8 C335.8 1165.1 344.8 1166.4 348.6 1167 C352.4 1167.6 364.5 1170.1 366.5 1170.5" stroke-width="1.7" fill="none" stroke="#000" />
<path d="M820.7 908.3 L915.3 866.1" stroke-width="1.8" fill="none" stroke="#000" />
<path d="M336.6 1121.5 C337.1 1121.4 338.3 1121.1 341.7 1120.1 C345.1 1119.1 364.8 1113.7 370.9 1111.3 C377 1108.9 393.9 1101 403 1096 C412.1 1091 454.1 1066 461.4 1061.7 C468.7 1057.4 474.5 1053.8 476 1052.9" stroke-width="1.8" fill="none" stroke="#000" />
<circle cx="548.3" cy="941.9" r="1.4" fill="#000" stroke="none"/>
<path d="M548.3 941.9 L758.1 1073.6" stroke-width="1.7" fill="none" stroke="#000" />
<path d="M509.1 928.6 L513.1 933.1 L561.3 983.3" stroke-width="1.8" fill="none" stroke="#000" />
<path d="M561.3 983.3 C562.5 984.6 567.7 990.4 570.5 993.1 C573.3 995.8 579.1 1001.3 582.2 1003.4 C585.3 1005.5 592.3 1007.8 593.9 1008.5" stroke-width="1.8" fill="none" stroke="#000" />
<path d="M601.2 980 C599.4 981 590.4 984.6 588 987.3 C585.6 990 583.6 998.7 582.9 1000.4" stroke-width="1.7" fill="none" stroke="#000" />
<path d="M607.6 858.8 L772.2 776.5 L781.7 781.9" stroke-width="1.9" fill="none" stroke="#000" />
<path d="M618.5 863.1 L779.3 783.6" stroke-width="1.8" fill="none" stroke="#000" />
<path d="M617.6 867.1 L782.3 791.9" stroke-width="1.8" fill="none" stroke="#000" />
<path d="M652.2 884.5 L763.4 830.7 L764.5 816.8" stroke-width="1.8" fill="none" stroke="#000" />
<path d="M661.9 889.3 L773.4 829.3 L781.7 828.1" stroke-width="1.8" fill="none" stroke="#000" />
<path d="M598.8 949.4 C604.3 946.7 669.6 914.3 681.1 908.2 C692.6 902.1 763.9 862.2 770.7 858.4 C777.5 854.6 782.4 851.6 783.2 851.1" stroke-width="1.8" fill="none" stroke="#000" />
<path d="M694 912.2 L755.1 878.6" stroke-width="1.8" fill="none" stroke="#000" />
<path d="M601.8 977 C604.9 975.7 640.4 961.1 648.5 957 C656.6 952.9 715.8 919.2 723 915.2 C730.2 911.2 753.6 898.5 755.8 897.3" stroke-width="1.8" fill="none" stroke="#000" />
<path d="M630.9 1257.6 L631.6 1320.5 L675.4 1345.2 L755.5 1299.3 L756.2 1234.3" stroke-width="2" fill="none" stroke="#000" />
<path d="M675.4 1277.4 L675.4 1345.2" stroke-width="1.9" fill="none" stroke="#000" />
<path d="M629.9 1234.3 C629.8 1235.3 629.1 1242.1 629 1243.9 C629 1245.7 629.1 1250.7 629.3 1252.1 C629.5 1253.5 630.5 1257.3 630.7 1257.9" stroke-width="2" fill="none" stroke="#000" />
<path d="M630.7 1257.9 L674.7 1278.4 L678.8 1278.1 L756.9 1235.7" stroke-width="2" fill="none" stroke="#000" />
<path d="M629.3 1251.8 L674.1 1272.9 L678.2 1272.9 L732.2 1243.9" stroke-width="1.8" fill="none" stroke="#000" />
<path d="M756.9 1235.7 C757 1235.1 757.9 1233.4 757.9 1232.3 C757.9 1231.1 757 1229.4 756.9 1228.8" stroke-width="1.9" fill="none" stroke="#000" />
<path d="M629.9 1234.3 L635.1 1229.1 L709.6 1188.1" stroke-width="2" fill="none" stroke="#000" />
<path d="M709.6 1188.1 C710.4 1188.1 713.2 1187.6 714.4 1188.5 C715.7 1189.4 716.7 1192.7 717.2 1193.5" stroke-width="2" fill="none" stroke="#000" />
<path d="M638.5 1234 L713.1 1193" stroke-width="1.8" fill="none" stroke="#000" />
<path d="M640.5 1238.4 L655.6 1230.9" stroke-width="1.7" fill="none" stroke="#000" />
<path d="M684.3 1202.8 L704.9 1192.6" stroke-width="1.7" fill="none" stroke="#000" />
<path d="M635.1 1229.1 L636.4 1238.4 L640.5 1242.5" stroke-width="1.8" fill="none" stroke="#000" />
<path d="M640.3 1239 C640.4 1238.6 640.7 1236.8 641.2 1236.2 C641.8 1235.7 643.2 1235.2 643.9 1235.3 C644.7 1235.3 645.9 1236.4 646.3 1236.6" stroke-width="2.5" fill="none" stroke="#000" />
<path d="M660.8 1227.8 C660.9 1227.3 661.2 1225.6 661.7 1225 C662.3 1224.5 663.7 1224 664.5 1224.1 C665.2 1224.1 666.5 1225.2 666.8 1225.4" stroke-width="2.5" fill="none" stroke="#000" />
<path d="M671 1222.3 C671.2 1221.9 671.5 1220.1 672 1219.5 C672.6 1219 674 1218.5 674.7 1218.6 C675.5 1218.6 676.7 1219.7 677.1 1220" stroke-width="2.5" fill="none" stroke="#000" />
<path d="M682 1216.1 C682.1 1215.7 682.4 1213.9 683 1213.4 C683.5 1212.8 684.9 1212.4 685.7 1212.4 C686.4 1212.5 687.7 1213.6 688 1213.8" stroke-width="2.5" fill="none" stroke="#000" />
<path d="M691.6 1211.1 C691.7 1210.6 692 1208.9 692.5 1208.3 C693.1 1207.8 694.5 1207.3 695.3 1207.4 C696 1207.4 697.2 1208.5 697.6 1208.7" stroke-width="2.5" fill="none" stroke="#000" />
<path d="M711.4 1199.7 C711.6 1199.3 711.8 1197.5 712.4 1197 C712.9 1196.4 714.4 1195.9 715.1 1196 C715.9 1196.1 717.1 1197.2 717.4 1197.4" stroke-width="2.5" fill="none" stroke="#000" />
<path d="M649.4 1233 L657 1229.5" stroke-width="3.8" fill="none" stroke="#000" />
<path d="M700.7 1204.2 L707.6 1201.2" stroke-width="3.8" fill="none" stroke="#000" />
<path d="M640.5 1242.5 L663.8 1252.8" stroke-width="1.9" fill="none" stroke="#000" />
<path d="M652.2 1241.2 L659.7 1237.7 L673.4 1244.6" stroke-width="1.8" fill="none" stroke="#000" />
<path d="M655.6 1243.9 L696.6 1223.4" stroke-width="1.8" fill="none" stroke="#000" />
<path d="M663.8 1252.8 C663.9 1252.6 664.2 1250.7 665.2 1250.1 C666.1 1249.4 673.1 1244.9 674.7 1244.6 C676.3 1244.3 683.1 1246 684.3 1246.6 C685.6 1247.3 689.3 1250.7 689.8 1252.1 C690.3 1253.5 690.6 1261.7 690.5 1263.1 C690.4 1264.5 689.6 1267.9 688.4 1268.8 C687.2 1269.7 677.1 1273.8 676.1 1274.3" stroke-width="2" fill="none" stroke="#000" />
<path d="M663.8 1252.8 L664.5 1261.7 L674.7 1266.5 L676.1 1274.3" stroke-width="1.9" fill="none" stroke="#000" />
<path d="M674.7 1266.5 L687.1 1260.3 L688.4 1268.8" stroke-width="1.8" fill="none" stroke="#000" />
<ellipse cx="676.4" cy="1256.2" rx="6.3" ry="6.8" transform="rotate(0 676.4 1256.2)" stroke-width="1.9" fill="none" stroke="#000"/>
<ellipse cx="676.4" cy="1256.2" rx="3.7" ry="4.1" transform="rotate(0 676.4 1256.2)" stroke-width="1.7" fill="none" stroke="#000"/>
<circle cx="676.4" cy="1256.2" r="1.3" fill="#000" stroke="none"/>
<circle cx="681.4" cy="1256.2" r="0.6" fill="#000" stroke="none"/>
<circle cx="680.3" cy="1259.7" r="0.6" fill="#000" stroke="none"/>
<circle cx="677.3" cy="1261.6" r="0.6" fill="#000" stroke="none"/>
<circle cx="673.9" cy="1261" r="0.6" fill="#000" stroke="none"/>
<circle cx="671.6" cy="1258.1" r="0.6" fill="#000" stroke="none"/>
<circle cx="671.6" cy="1254.3" r="0.6" fill="#000" stroke="none"/>
<circle cx="673.9" cy="1251.5" r="0.6" fill="#000" stroke="none"/>
<circle cx="677.3" cy="1250.8" r="0.6" fill="#000" stroke="none"/>
<circle cx="680.3" cy="1252.7" r="0.6" fill="#000" stroke="none"/>
<path d="M672 1237.1 L715.8 1212.4 L728.1 1217.2 L685.7 1241.2 Z" stroke-width="1.9" fill="none" stroke="#000" />
<path d="M691.2 1241.2 L696.6 1252.1 L702.1 1250.7" stroke-width="1.8" fill="none" stroke="#000" />
<path d="M694.6 1234.3 L697.3 1238.4" stroke-width="2" fill="none" stroke="#000" />
<path d="M698.7 1233.6 L696.6 1241.2" stroke-width="1.7" fill="none" stroke="#000" />
<path d="M694.6 1257.6 C694.7 1258.7 694.5 1263.2 695 1264.4 C695.5 1265.7 696.9 1265 697.3 1265.1" stroke-width="2.5" fill="none" stroke="#000" />
<path d="M697.3 1265.1 L739.1 1241.8" stroke-width="3.3" fill="none" stroke="#000" />
<path d="M739.1 1241.8 C739.4 1240.8 741 1237.5 741.1 1235.7 C741.2 1233.9 740 1231.7 739.7 1230.9" stroke-width="2" fill="none" stroke="#000" />
<path d="M700.7 1248.3 L702.1 1242.5 L725.4 1228.8 L736.3 1228.8 L739.7 1230.9" stroke-width="1.9" fill="none" stroke="#000" />
<path d="M694.6 1257.6 L700.7 1248.3 L736.3 1230.9" stroke-width="1.9" fill="none" stroke="#000" />
<path d="M702.1 1242.5 L703.5 1248.7" stroke-width="1.8" fill="none" stroke="#000" />
<path d="M704.9 1234.3 L724 1223.4" stroke-width="1.8" fill="none" stroke="#000" />
<path d="M714.4 1228.8 L724 1224.1" stroke-width="4.3" fill="none" stroke="#000" />
<path d="M728.1 1217.2 L729.5 1211.1 L724 1207.6 L724.7 1196 L735.6 1196.7 L741.1 1195.3 L743.9 1199 L743.2 1211.1 L748.6 1215.2 L751.4 1222.7 L756.2 1224.7 L756.9 1228.8" stroke-width="2" fill="none" stroke="#000" />
<path d="M717.2 1193.5 L724 1196" stroke-width="1.9" fill="none" stroke="#000" />
<path d="M729.5 1211.1 L737.7 1207 L740.4 1201.5" stroke-width="1.8" fill="none" stroke="#000" />
<path d="M733.6 1215.2 L739.1 1224.7 L740.4 1234.3" stroke-width="1.8" fill="none" stroke="#000" />
<path d="M739.1 1224.7 L744.5 1222 L745.2 1235.7 L755.5 1230.2" stroke-width="1.8" fill="none" stroke="#000" />
<path d="M743.9 1199 L743.9 1215.2" stroke-width="1.8" fill="none" stroke="#000" />
<ellipse cx="742.5" cy="1215.8" rx="1.9" ry="1.6" transform="rotate(0 742.5 1215.8)" stroke-width="3" fill="none" stroke="#000"/>
<ellipse cx="748" cy="1221.3" rx="1.9" ry="1.6" transform="rotate(0 748 1221.3)" stroke-width="3" fill="none" stroke="#000"/>
<path d="M745.9 1237.1 L754.8 1232.3" stroke-width="2.8" fill="none" stroke="#000" />
<path d="M689.8 1279.5 L743.2 1251" stroke-width="3.4" fill="none" stroke="#000" />
<path d="M687.3 1287.7 L743.9 1256.5" stroke-width="3.4" fill="none" stroke="#000" />
<path d="M680.9 1284.4 L685.7 1282.9" stroke-width="4.1" fill="none" stroke="#000" />
<path d="M748 1246.6 C748.4 1245.8 749.4 1244.5 750 1244.6 C750.6 1244.7 751.5 1246.3 751.4 1247.3 C751.3 1248.3 750 1250.4 749.3 1250.7 C748.6 1251.1 747.5 1250.1 747.3 1249.4 C747 1248.7 747.5 1247.4 748 1246.6 Z" stroke-width="1.5" fill="#000" stroke="#000" />
<path d="M125.6 1239.8 L131.6 1240.9 L121.8 1274.3 L137.1 1292.4 L132.2 1292 L115 1274.9 Z" stroke-width="1.5" fill="#000" stroke="#000" />
<path d="M132.2 1242.3 L174.3 1217.7 L180.3 1219 L133.8 1246.1 Z" stroke-width="1.5" fill="#000" stroke="#000" />
<path d="M131.6 1240.9 L133.2 1245.3 L180.3 1219 L184.4 1248 L136 1281.4 L137.1 1292.4 L121.2 1274.9 Z" stroke-width="2.3" fill="#fff" stroke="#000" />
<text transform="matrix(0.823,-0.568,0.16,0.987,134.2,1277.6)" x="0" y="0" font-size="33" font-weight="bold" font-family="'Liberation Sans', sans-serif" fill="#000" stroke="#000" stroke-width="0.6" textLength="56" lengthAdjust="spacingAndGlyphs">FRONT</text>
</svg>
</body></html>
